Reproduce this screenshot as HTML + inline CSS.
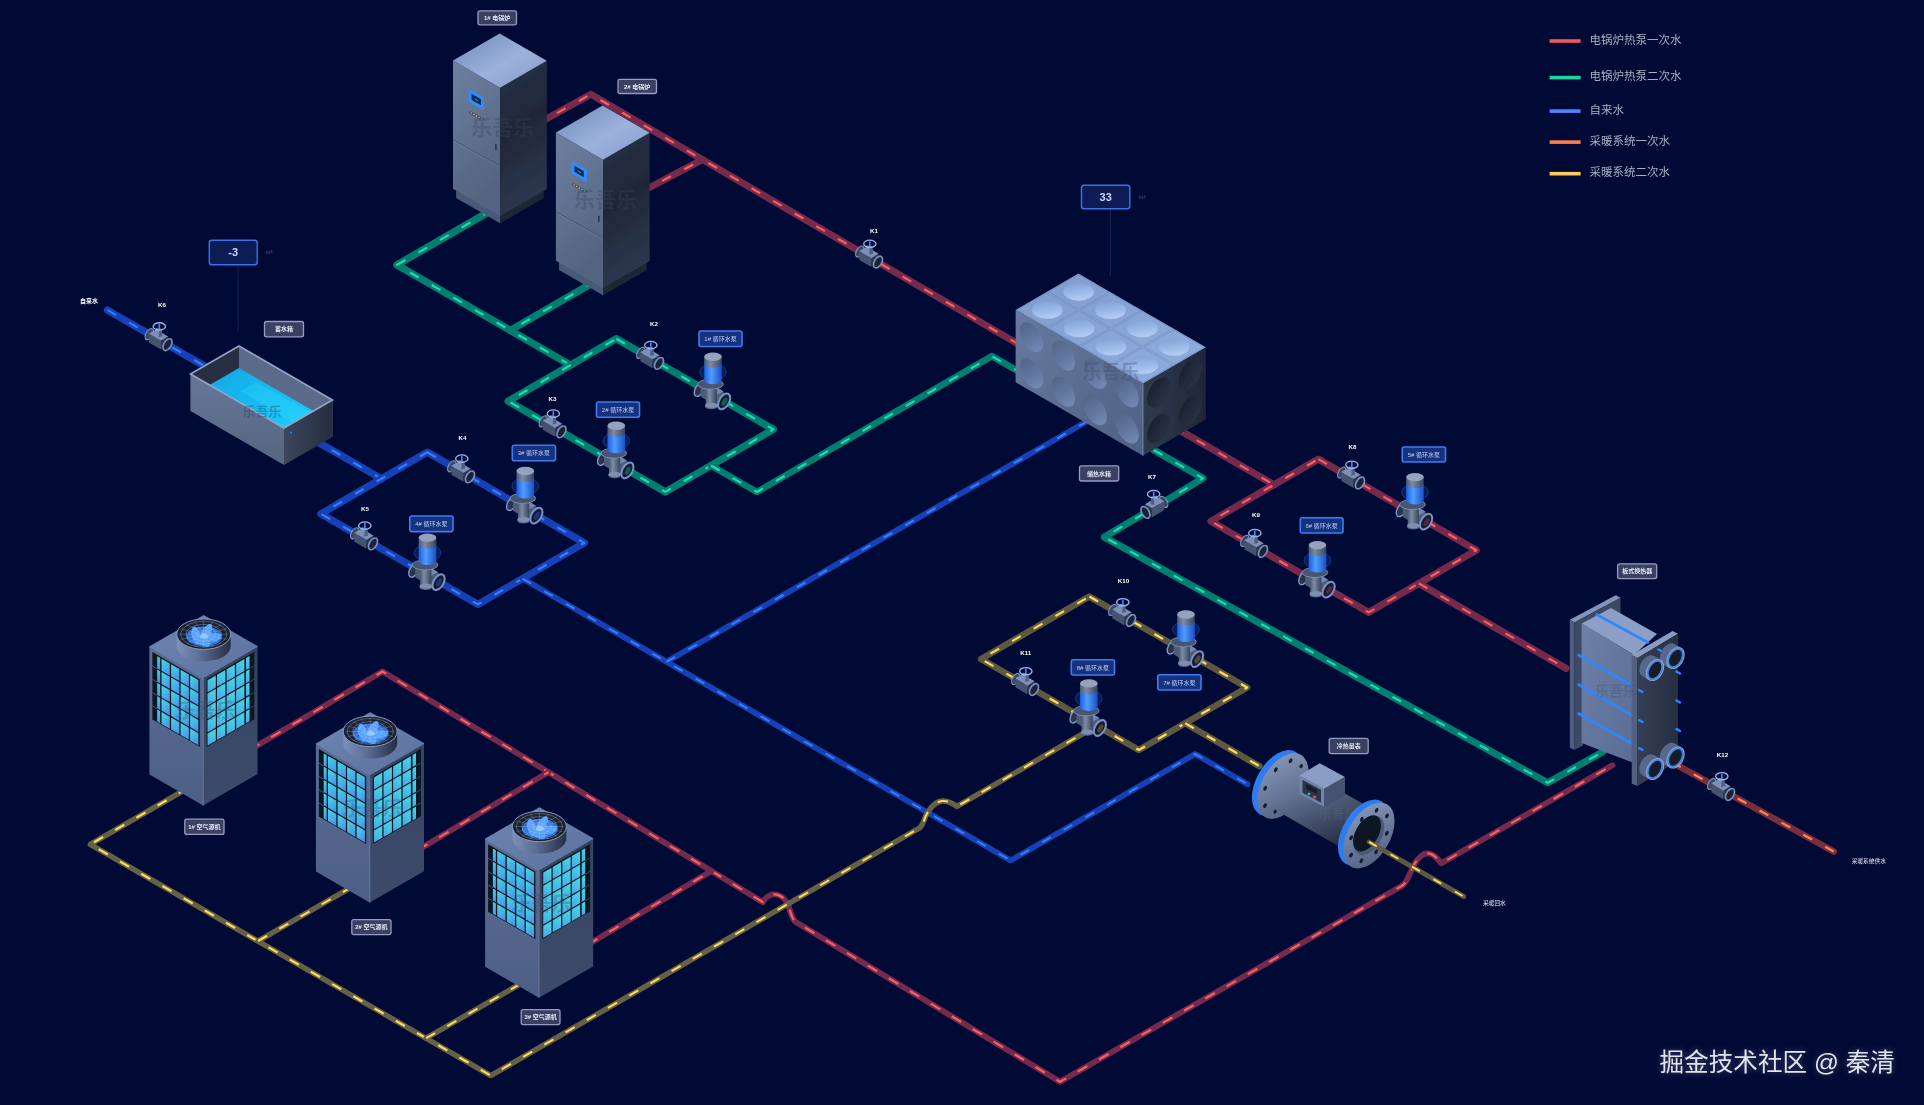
<!DOCTYPE html>
<html lang="zh"><head><meta charset="utf-8"><title>供热系统</title>
<style>html,body{margin:0;padding:0;background:#010a34;overflow:hidden}svg{display:block;font-family:"Liberation Sans","Noto Sans CJK SC",sans-serif}</style></head><body>
<svg width="1924" height="1105" viewBox="0 0 1924 1105">
<defs>
<linearGradient id="cabTop" x1="0" y1="0" x2="1" y2="1"><stop offset="0" stop-color="#6f88bb"/><stop offset=".55" stop-color="#9db2db"/><stop offset="1" stop-color="#8299c6"/></linearGradient>
<linearGradient id="cabL" x1="0" y1="0" x2="0.3" y2="1"><stop offset="0" stop-color="#6f7fa0"/><stop offset="1" stop-color="#536380"/></linearGradient>
<linearGradient id="cabR" x1="0" y1="0" x2="0.2" y2="1"><stop offset="0" stop-color="#27314a"/><stop offset=".5" stop-color="#1f2738"/><stop offset="1" stop-color="#2d3850"/></linearGradient>
<linearGradient id="chTop" x1="0" y1="0" x2="1" y2="1"><stop offset="0" stop-color="#6f86b4"/><stop offset="1" stop-color="#5c719c"/></linearGradient>
<linearGradient id="chL" x1="0" y1="0" x2="0" y2="1"><stop offset="0" stop-color="#5a6d93"/><stop offset="1" stop-color="#4d5f84"/></linearGradient>
<linearGradient id="chR" x1="0" y1="0" x2="0" y2="1"><stop offset="0" stop-color="#36435f"/><stop offset="1" stop-color="#3d4b6b"/></linearGradient>
<linearGradient id="cell" x1="0" y1="0" x2="0.4" y2="1"><stop offset="0" stop-color="#43dbe0"/><stop offset="1" stop-color="#4a98e8"/></linearGradient>
<linearGradient id="cellR" x1="0" y1="0" x2="-0.3" y2="1"><stop offset="0" stop-color="#45d0e2"/><stop offset="1" stop-color="#4aa0e6"/></linearGradient>
<linearGradient id="fanCyl" x1="0" y1="0" x2="1" y2="0"><stop offset="0" stop-color="#7d90b8"/><stop offset=".45" stop-color="#5b6c92"/><stop offset="1" stop-color="#252e44"/></linearGradient>
<radialGradient id="fanBlue" cx=".5" cy=".5" r=".5"><stop offset="0" stop-color="#7cc0ff"/><stop offset=".7" stop-color="#3b8ef0"/><stop offset="1" stop-color="#2566c8"/></radialGradient>
<linearGradient id="motor" x1="0" y1="0" x2="1" y2="0"><stop offset="0" stop-color="#4f5b75"/><stop offset=".35" stop-color="#7d8ba8"/><stop offset="1" stop-color="#38435a"/></linearGradient>
<linearGradient id="motorB" x1="0" y1="0" x2="1" y2="0"><stop offset="0" stop-color="#1f5fe0"/><stop offset=".4" stop-color="#4f9dff"/><stop offset="1" stop-color="#1a4fc4"/></linearGradient>
<linearGradient id="pbase" x1="0" y1="0" x2="1" y2="1"><stop offset="0" stop-color="#9fb0d2"/><stop offset="1" stop-color="#3f4c69"/></linearGradient>
<linearGradient id="vbody" x1="0" y1="0" x2="0" y2="1"><stop offset="0" stop-color="#8394b8"/><stop offset="1" stop-color="#37435c"/></linearGradient>
<linearGradient id="wtL" x1="0" y1="0" x2="0" y2="1"><stop offset="0" stop-color="#66779a"/><stop offset="1" stop-color="#55657f"/></linearGradient>
<linearGradient id="wtR" x1="0" y1="0" x2="1" y2="0"><stop offset="0" stop-color="#3c465e"/><stop offset="1" stop-color="#262d3e"/></linearGradient>
<linearGradient id="water" x1="0" y1="0" x2="1" y2="1"><stop offset="0" stop-color="#10a9e6"/><stop offset=".6" stop-color="#15bdf4"/><stop offset="1" stop-color="#1fd0ff"/></linearGradient>
<linearGradient id="btTop" x1="0" y1="0" x2="1" y2="1"><stop offset="0" stop-color="#7f9bcb"/><stop offset="1" stop-color="#91aee0"/></linearGradient>
<linearGradient id="btL" x1="0" y1="0" x2="1" y2="1"><stop offset="0" stop-color="#677a9f"/><stop offset="1" stop-color="#4e6184"/></linearGradient>
<linearGradient id="btR" x1="0" y1="0" x2="1" y2="0"><stop offset="0" stop-color="#303a50"/><stop offset="1" stop-color="#1f2636"/></linearGradient>
<linearGradient id="dimT" x1="0" y1="0" x2="1" y2=".6"><stop offset="0" stop-color="#7d9bd0"/><stop offset=".6" stop-color="#9ab8e8"/><stop offset="1" stop-color="#b4cdf4"/></linearGradient>
<linearGradient id="dimL" x1="0" y1="0" x2="1" y2="1"><stop offset="0" stop-color="#4d5f83"/><stop offset=".55" stop-color="#63779f"/><stop offset="1" stop-color="#7b92bf"/></linearGradient>
<linearGradient id="dimR" x1="0" y1="0" x2="1" y2="1"><stop offset="0" stop-color="#181e2b"/><stop offset="1" stop-color="#2c3549"/></linearGradient>
<linearGradient id="fmBody" x1="0" y1="0" x2="0.5" y2="1"><stop offset="0" stop-color="#7a8bae"/><stop offset=".35" stop-color="#637394"/><stop offset="1" stop-color="#252d40"/></linearGradient>
<linearGradient id="fmFl" x1="0" y1="0" x2="1" y2="1"><stop offset="0" stop-color="#8a9cc0"/><stop offset="1" stop-color="#4d5b7a"/></linearGradient>
<linearGradient id="heL" x1="0" y1="0" x2="1" y2="1"><stop offset="0" stop-color="#6d80a8"/><stop offset="1" stop-color="#5a6c92"/></linearGradient>
<linearGradient id="heR" x1="0" y1="0" x2="1" y2="0"><stop offset="0" stop-color="#353f56"/><stop offset="1" stop-color="#262e40"/></linearGradient>
<filter id="soft" x="0" y="0" width="1924" height="1105" filterUnits="userSpaceOnUse"><feGaussianBlur stdDeviation="0.7"/></filter><filter id="haze" x="-10%" y="-40%" width="120%" height="180%"><feGaussianBlur stdDeviation="3.5"/></filter></defs>
<rect width="1924" height="1105" fill="#010a34"/>
<g filter="url(#soft)">
<g id="pipes">
<path d="M535.0 125.3 L590.8 94.3 L1030.0 351.0" fill="none" stroke="#742a4b" stroke-width="6.9" stroke-linejoin="round" stroke-linecap="round"/>
<path d="M535.0 125.3 L590.8 94.3 L1030.0 351.0" fill="none" stroke="#ff5c62" stroke-width="2.2" stroke-dasharray="10 15" stroke-dashoffset="0" stroke-linejoin="round"/>
<path d="M640.0 192.5 L702.5 159.6" fill="none" stroke="#742a4b" stroke-width="6.9" stroke-linejoin="round" stroke-linecap="round"/>
<path d="M640.0 192.5 L702.5 159.6" fill="none" stroke="#ff5c62" stroke-width="2.2" stroke-dasharray="10 15" stroke-dashoffset="0" stroke-linejoin="round"/>
<path d="M492.0 210.0 L396.9 264.9 L570.5 365.1" fill="none" stroke="#017e70" stroke-width="7.3" stroke-linejoin="round" stroke-linecap="round"/>
<path d="M492.0 210.0 L396.9 264.9 L570.5 365.1" fill="none" stroke="#22d8ae" stroke-width="2.2" stroke-dasharray="10 15" stroke-dashoffset="0" stroke-linejoin="round"/>
<path d="M595.0 281.5 L510.3 330.4" fill="none" stroke="#017e70" stroke-width="7.3" stroke-linejoin="round" stroke-linecap="round"/>
<path d="M595.0 281.5 L510.3 330.4" fill="none" stroke="#22d8ae" stroke-width="2.2" stroke-dasharray="10 15" stroke-dashoffset="0" stroke-linejoin="round"/>
<path d="M616.3 338.7 L773.4 429.4 L665.4 491.9 L508.2 401.1 Z" fill="none" stroke="#017e70" stroke-width="7.3" stroke-linejoin="round" stroke-linecap="round"/>
<path d="M616.3 338.7 L773.4 429.4 L665.4 491.9 L508.2 401.1 Z" fill="none" stroke="#22d8ae" stroke-width="2.2" stroke-dasharray="10 15" stroke-dashoffset="0" stroke-linejoin="round"/>
<path d="M711.0 465.5 L756.9 492.0 L992.0 356.2 L1040.0 383.9" fill="none" stroke="#017e70" stroke-width="6.6" stroke-linejoin="round" stroke-linecap="round"/>
<path d="M711.0 465.5 L756.9 492.0 L992.0 356.2 L1040.0 383.9" fill="none" stroke="#22d8ae" stroke-width="2.2" stroke-dasharray="10 15" stroke-dashoffset="0" stroke-linejoin="round"/>
<path d="M107.5 310.1 L220.0 375.0" fill="none" stroke="#1341b5" stroke-width="7.3" stroke-linejoin="round" stroke-linecap="round"/>
<path d="M107.5 310.1 L220.0 375.0" fill="none" stroke="#3a7af6" stroke-width="2.2" stroke-dasharray="10 15" stroke-dashoffset="0" stroke-linejoin="round"/>
<path d="M310.0 437.5 L381.5 478.8" fill="none" stroke="#1341b5" stroke-width="7.3" stroke-linejoin="round" stroke-linecap="round"/>
<path d="M310.0 437.5 L381.5 478.8" fill="none" stroke="#3a7af6" stroke-width="2.2" stroke-dasharray="10 15" stroke-dashoffset="0" stroke-linejoin="round"/>
<path d="M427.4 452.2 L584.4 542.9 L477.9 604.4 L320.9 513.8 Z" fill="none" stroke="#1341b5" stroke-width="7.3" stroke-linejoin="round" stroke-linecap="round"/>
<path d="M427.4 452.2 L584.4 542.9 L477.9 604.4 L320.9 513.8 Z" fill="none" stroke="#3a7af6" stroke-width="2.2" stroke-dasharray="10 15" stroke-dashoffset="0" stroke-linejoin="round"/>
<path d="M522.5 578.6 L1010.7 860.5 L1195.1 754.0 L1247.5 784.2" fill="none" stroke="#1341b5" stroke-width="5.8" stroke-linejoin="round" stroke-linecap="round"/>
<path d="M522.5 578.6 L1010.7 860.5 L1195.1 754.0 L1247.5 784.2" fill="none" stroke="#3a7af6" stroke-width="2.2" stroke-dasharray="10 15" stroke-dashoffset="0" stroke-linejoin="round"/>
<path d="M666.5 661.8 L1092.0 418.6" fill="none" stroke="#1341b5" stroke-width="5.8" stroke-linejoin="round" stroke-linecap="round"/>
<path d="M666.5 661.8 L1092.0 418.6" fill="none" stroke="#3a7af6" stroke-width="2.2" stroke-dasharray="10 15" stroke-dashoffset="0" stroke-linejoin="round"/>
<path d="M1175.0 427.6 L1274.0 484.8" fill="none" stroke="#742a4b" stroke-width="7" stroke-linejoin="round" stroke-linecap="round"/>
<path d="M1175.0 427.6 L1274.0 484.8" fill="none" stroke="#ff5c62" stroke-width="2.2" stroke-dasharray="10 15" stroke-dashoffset="0" stroke-linejoin="round"/>
<path d="M1318.4 459.1 L1476.3 550.2 L1368.7 612.4 L1210.8 521.2 Z" fill="none" stroke="#742a4b" stroke-width="7" stroke-linejoin="round" stroke-linecap="round"/>
<path d="M1318.4 459.1 L1476.3 550.2 L1368.7 612.4 L1210.8 521.2 Z" fill="none" stroke="#ff5c62" stroke-width="2.2" stroke-dasharray="10 15" stroke-dashoffset="0" stroke-linejoin="round"/>
<path d="M1418.8 583.4 L1566.0 668.4" fill="none" stroke="#742a4b" stroke-width="7" stroke-linejoin="round" stroke-linecap="round"/>
<path d="M1418.8 583.4 L1566.0 668.4" fill="none" stroke="#ff5c62" stroke-width="2.2" stroke-dasharray="10 15" stroke-dashoffset="0" stroke-linejoin="round"/>
<path d="M1153.7 450.0 L1203.0 478.3 L1167.6 499.8" fill="none" stroke="#017e70" stroke-width="7" stroke-linejoin="round" stroke-linecap="round"/>
<path d="M1153.7 450.0 L1203.0 478.3 L1167.6 499.8" fill="none" stroke="#22d8ae" stroke-width="2.2" stroke-dasharray="10 15" stroke-dashoffset="0" stroke-linejoin="round"/>
<path d="M1143.7 513.7 L1104.4 537.1 L1547.7 782.8 L1603.0 751.8" fill="none" stroke="#017e70" stroke-width="7" stroke-linejoin="round" stroke-linecap="round"/>
<path d="M1143.7 513.7 L1104.4 537.1 L1547.7 782.8 L1603.0 751.8" fill="none" stroke="#22d8ae" stroke-width="2.2" stroke-dasharray="10 15" stroke-dashoffset="0" stroke-linejoin="round"/>
<path d="M1089.4 596.5 L1247.1 687.5 L1138.8 750.0 L981.1 659.0 Z" fill="none" stroke="#5f5941" stroke-width="6.5" stroke-linejoin="round" stroke-linecap="round"/>
<path d="M1089.4 596.5 L1247.1 687.5 L1138.8 750.0 L981.1 659.0 Z" fill="none" stroke="#ffd95a" stroke-width="2.2" stroke-dasharray="10 15" stroke-dashoffset="0" stroke-linejoin="round"/>
<path d="M1185.2 723.2 L1259.5 766.2" fill="none" stroke="#5f5941" stroke-width="6.5" stroke-linejoin="round" stroke-linecap="round"/>
<path d="M1185.2 723.2 L1259.5 766.2" fill="none" stroke="#ffd95a" stroke-width="2.2" stroke-dasharray="10 15" stroke-dashoffset="0" stroke-linejoin="round"/>
<path d="M1366.0 840.2 L1463.8 896.6" fill="none" stroke="#5f5941" stroke-width="4.6" stroke-linejoin="round" stroke-linecap="round"/>
<path d="M1366.0 840.2 L1463.8 896.6" fill="none" stroke="#ffd95a" stroke-width="1.9" stroke-dasharray="10 15" stroke-dashoffset="0" stroke-linejoin="round"/>
<path d="M250 749.7 L382.5 671.5 L763 902.3 C764.5 899 767 896 772 894.5 C779 893.5 785 898 788 904.5 C790 909.5 791 917 795 921.5 L1060 1081.8 L1402.5 885.5 C1406 883 1408 878 1410.5 872.5 C1413 866 1417 857.5 1424 854 C1429 852 1434 855 1437 858.5 L1441.3 863.3 L1612.5 765.2" fill="none" stroke="#752c4d" stroke-width="5.8" stroke-linejoin="round" stroke-linecap="round"/>
<path d="M250 749.7 L382.5 671.5 L763 902.3 C764.5 899 767 896 772 894.5 C779 893.5 785 898 788 904.5 C790 909.5 791 917 795 921.5 L1060 1081.8 L1402.5 885.5 C1406 883 1408 878 1410.5 872.5 C1413 866 1417 857.5 1424 854 C1429 852 1434 855 1437 858.5 L1441.3 863.3 L1612.5 765.2" fill="none" stroke="#ff5c62" stroke-width="2.2" stroke-dasharray="11 13.5" stroke-dashoffset="0" stroke-linejoin="round"/>
<path d="M418.0 849.9 L548.5 772.1" fill="none" stroke="#752c4d" stroke-width="5.8" stroke-linejoin="round" stroke-linecap="round"/>
<path d="M418.0 849.9 L548.5 772.1" fill="none" stroke="#ff5c62" stroke-width="2.2" stroke-dasharray="11 13.5" stroke-dashoffset="0" stroke-linejoin="round"/>
<path d="M588.0 944.5 L711.5 870.9" fill="none" stroke="#752c4d" stroke-width="5.8" stroke-linejoin="round" stroke-linecap="round"/>
<path d="M588.0 944.5 L711.5 870.9" fill="none" stroke="#ff5c62" stroke-width="2.2" stroke-dasharray="11 13.5" stroke-dashoffset="0" stroke-linejoin="round"/>
<path d="M1096.7 725.7 L957 806.4 C952 803 948 800.5 942 801 C934 802 929 809.5 925.5 816.5 C924 820.5 923 824.5 920 827.7 L490.8 1075.6 L90.3 844.4 L190.0 786.8" fill="none" stroke="#666045" stroke-width="5.4" stroke-linejoin="round" stroke-linecap="round"/>
<path d="M1096.7 725.7 L957 806.4 C952 803 948 800.5 942 801 C934 802 929 809.5 925.5 816.5 C924 820.5 923 824.5 920 827.7 L490.8 1075.6 L90.3 844.4 L190.0 786.8" fill="none" stroke="#ffd95a" stroke-width="2.1" stroke-dasharray="10.5 14" stroke-dashoffset="0" stroke-linejoin="round"/>
<path d="M352.0 886.8 L257.9 941.1" fill="none" stroke="#666045" stroke-width="5.4" stroke-linejoin="round" stroke-linecap="round"/>
<path d="M352.0 886.8 L257.9 941.1" fill="none" stroke="#ffd95a" stroke-width="2.1" stroke-dasharray="10.5 14" stroke-dashoffset="0" stroke-linejoin="round"/>
<path d="M520.0 984.1 L426.2 1038.2" fill="none" stroke="#666045" stroke-width="5.4" stroke-linejoin="round" stroke-linecap="round"/>
<path d="M520.0 984.1 L426.2 1038.2" fill="none" stroke="#ffd95a" stroke-width="2.1" stroke-dasharray="10.5 14" stroke-dashoffset="0" stroke-linejoin="round"/>
<path d="M1672.0 762.3 L1833.8 851.5" fill="none" stroke="#7a2f3e" stroke-width="6.5" stroke-linejoin="round" stroke-linecap="round"/>
<path d="M1672.0 762.3 L1833.8 851.5" fill="none" stroke="#ff8455" stroke-width="2.2" stroke-dasharray="10 15" stroke-dashoffset="0" stroke-linejoin="round"/>
</g>
<g id="devices">
<polygon points="456.1,182.8 500.1,208.2 500.1,223.3 456.1,197.9" fill="#4a5a78"/>
<polygon points="500.1,208.2 543.7,183.0 543.7,198.2 500.1,223.3" fill="#1d2536"/>
<polygon points="453.0,60.5 500.1,87.8 500.1,215.9 453.0,188.8" fill="url(#cabL)"/>
<polygon points="500.1,87.8 546.8,60.8 546.8,189.0 500.1,215.9" fill="url(#cabR)"/>
<polygon points="499.7,33.6 546.8,60.8 500.1,87.8 453.0,60.5" fill="url(#cabTop)"/>
<path d="M453.5 140.1 L499.6 165.8" stroke="#46556f" stroke-width="1" fill="none"/>
<path d="M453.5 141.1 L499.6 166.8" stroke="#8091b2" stroke-width=".6" fill="none" opacity=".6"/>
<polygon points="469.0,89.8 483.3,98.0 483.3,109.2 469.0,101.0" fill="#2f8dff" stroke="#2f8dff" stroke-width="1.2" stroke-linejoin="round"/>
<polygon points="471.5,93.8 481.0,99.3 481.0,105.3 471.5,99.8" fill="#0d2c52"/>
<path d="M474.7 98.8 L478.1 100.8" stroke="#2bd0a0" stroke-width=".8"/>
<path d="M470.3 112.5 L482.5 119.5" stroke="#4a5874" stroke-width="2.6" stroke-linecap="round"/>
<circle cx="471.2" cy="113.0" r=".75" fill="#ff8a3c"/>
<circle cx="473.8" cy="114.5" r=".75" fill="#ff8a3c"/>
<circle cx="476.4" cy="116.0" r=".75" fill="#ffb03c"/>
<circle cx="479.0" cy="117.5" r=".75" fill="#38d890"/>
<circle cx="481.6" cy="119.0" r=".75" fill="#38d890"/>
<path d="M495.9 144.3 v5" stroke="#1e2738" stroke-width="1.3" stroke-linecap="round"/>
<text x="502.7" y="134.6" font-size="21" font-weight="700" fill="#39445c" fill-opacity="0.33" text-anchor="middle">乐吾乐</text>
<polygon points="559.0,254.8 603.0,280.1 603.0,295.3 559.0,269.9" fill="#4a5a78"/>
<polygon points="603.0,280.1 646.6,255.0 646.6,270.2 603.0,295.3" fill="#1d2536"/>
<polygon points="555.9,132.5 603.0,159.7 603.0,287.9 555.9,260.8" fill="url(#cabL)"/>
<polygon points="603.0,159.7 649.7,132.8 649.7,261.0 603.0,287.9" fill="url(#cabR)"/>
<polygon points="602.6,105.6 649.7,132.8 603.0,159.7 555.9,132.5" fill="url(#cabTop)"/>
<path d="M556.4 212.0 L602.5 237.7" stroke="#46556f" stroke-width="1" fill="none"/>
<path d="M556.4 213.0 L602.5 238.7" stroke="#8091b2" stroke-width=".6" fill="none" opacity=".6"/>
<polygon points="571.9,161.8 586.2,170.0 586.2,181.2 571.9,173.0" fill="#2f8dff" stroke="#2f8dff" stroke-width="1.2" stroke-linejoin="round"/>
<polygon points="574.4,165.8 583.9,171.3 583.9,177.3 574.4,171.8" fill="#0d2c52"/>
<path d="M577.6 170.8 L581.0 172.8" stroke="#2bd0a0" stroke-width=".8"/>
<path d="M573.2 184.5 L585.4 191.5" stroke="#4a5874" stroke-width="2.6" stroke-linecap="round"/>
<circle cx="574.1" cy="185.0" r=".75" fill="#ff8a3c"/>
<circle cx="576.7" cy="186.5" r=".75" fill="#ff8a3c"/>
<circle cx="579.3" cy="188.0" r=".75" fill="#ffb03c"/>
<circle cx="581.9" cy="189.5" r=".75" fill="#38d890"/>
<circle cx="584.5" cy="191.0" r=".75" fill="#38d890"/>
<path d="M598.8 216.3 v5" stroke="#1e2738" stroke-width="1.3" stroke-linecap="round"/>
<text x="605.6" y="206.6" font-size="21" font-weight="700" fill="#39445c" fill-opacity="0.33" text-anchor="middle">乐吾乐</text>
<polygon points="239.0,346.0 190.5,374.0 190.5,411.0 239.0,383.0" fill="#262e40"/>
<polygon points="239.0,346.0 332.5,400.0 332.5,437.0 239.0,383.0" fill="#5b6b8a"/>
<polygon points="239.0,368.0 313.5,411.0 284.0,428.0 209.6,385.0" fill="url(#water)"/>
<polygon points="256.3,382.0 310.5,412.5 292.0,422.0 240.3,391.0" fill="#3fe0ff" fill-opacity=".28"/>
<polygon points="190.5,374.0 284.0,428.0 284.0,465.0 190.5,411.0" fill="url(#wtL)"/>
<polygon points="284.0,428.0 332.5,400.0 332.5,437.0 284.0,465.0" fill="url(#wtR)"/>
<polygon points="239.0,346.0 332.5,400.0 284.0,428.0 190.5,374.0" fill="none" stroke="#93a5ca" stroke-width="1.6" stroke-linejoin="miter"/>
<circle cx="291.0" cy="432.5" r="1" fill="#2f8dff"/>
<text x="262.0" y="416.0" font-size="13" font-weight="700" fill="#2a3a55" fill-opacity="0.35" text-anchor="middle">乐吾乐</text>
<polygon points="1015.6,309.9 1143.0,383.4 1143.0,455.8 1015.6,382.2" fill="url(#btL)"/>
<polygon points="1143.0,383.4 1205.8,347.2 1205.8,419.6 1143.0,455.8" fill="url(#btR)"/>
<polygon points="1078.4,273.6 1205.8,347.2 1143.0,383.4 1015.6,309.9" fill="url(#btTop)"/>
<g transform="matrix(0.8660 0.5000 -0.8660 0.5000 1078.4 273.6)">
<rect x="1.0" y="1.0" width="34.8" height="34.2" fill="none" stroke="#6d88b8" stroke-width=".7" stroke-opacity=".7"/>
<circle cx="18.4" cy="18.1" r="12.5" fill="url(#dimT)"/>
<rect x="1.0" y="37.2" width="34.8" height="34.2" fill="none" stroke="#6d88b8" stroke-width=".7" stroke-opacity=".7"/>
<circle cx="18.4" cy="54.4" r="12.5" fill="url(#dimT)"/>
<rect x="37.8" y="1.0" width="34.8" height="34.2" fill="none" stroke="#6d88b8" stroke-width=".7" stroke-opacity=".7"/>
<circle cx="55.2" cy="18.1" r="12.5" fill="url(#dimT)"/>
<rect x="37.8" y="37.2" width="34.8" height="34.2" fill="none" stroke="#6d88b8" stroke-width=".7" stroke-opacity=".7"/>
<circle cx="55.2" cy="54.4" r="12.5" fill="url(#dimT)"/>
<rect x="74.5" y="1.0" width="34.8" height="34.2" fill="none" stroke="#6d88b8" stroke-width=".7" stroke-opacity=".7"/>
<circle cx="91.9" cy="18.1" r="12.5" fill="url(#dimT)"/>
<rect x="74.5" y="37.2" width="34.8" height="34.2" fill="none" stroke="#6d88b8" stroke-width=".7" stroke-opacity=".7"/>
<circle cx="91.9" cy="54.4" r="12.5" fill="url(#dimT)"/>
<rect x="111.3" y="1.0" width="34.8" height="34.2" fill="none" stroke="#6d88b8" stroke-width=".7" stroke-opacity=".7"/>
<circle cx="128.7" cy="18.1" r="12.5" fill="url(#dimT)"/>
<rect x="111.3" y="37.2" width="34.8" height="34.2" fill="none" stroke="#6d88b8" stroke-width=".7" stroke-opacity=".7"/>
<circle cx="128.7" cy="54.4" r="12.5" fill="url(#dimT)"/>
</g>
<g transform="matrix(0.8660 0.5000 0 1 1015.6 309.9)">
<circle cx="18.4" cy="18.1" r="13.5" fill="url(#dimL)"/>
<circle cx="18.4" cy="54.3" r="13.5" fill="url(#dimL)"/>
<circle cx="55.2" cy="18.1" r="13.5" fill="url(#dimL)"/>
<circle cx="55.2" cy="54.3" r="13.5" fill="url(#dimL)"/>
<circle cx="91.9" cy="18.1" r="13.5" fill="url(#dimL)"/>
<circle cx="91.9" cy="54.3" r="13.5" fill="url(#dimL)"/>
<circle cx="128.7" cy="18.1" r="13.5" fill="url(#dimL)"/>
<circle cx="128.7" cy="54.3" r="13.5" fill="url(#dimL)"/>
</g>
<g transform="matrix(0.8660 -0.5000 0 1 1143.0 383.4)">
<circle cx="18.1" cy="18.1" r="13.5" fill="url(#dimR)"/>
<circle cx="18.1" cy="54.3" r="13.5" fill="url(#dimR)"/>
<circle cx="54.4" cy="18.1" r="13.5" fill="url(#dimR)"/>
<circle cx="54.4" cy="54.3" r="13.5" fill="url(#dimR)"/>
</g>
<path d="M1143.0 383.4 v72.4" stroke="#8aa2cf" stroke-width=".8" stroke-opacity=".8"/>
<text x="1111.0" y="379.0" font-size="19" font-weight="700" fill="#3a4864" fill-opacity="0.3" text-anchor="middle">乐吾乐</text>
<polygon points="1569.8,619.7 1615.8,595.2 1620.5,597.8 1574.5,622.5" fill="#8294ba"/>
<polygon points="1569.8,619.7 1574.5,622.5 1574.5,750.0 1569.8,747.5" fill="#4f5f80"/>
<polygon points="1574.5,622.5 1620.5,597.8 1620.5,640.0 1583.0,660.0 1583.0,745.5 1574.5,750.0" fill="#3c4965"/>
<polygon points="1581.6,623.5 1611.0,608.0 1657.0,634.0 1634.0,655.0" fill="#8d9fc6"/>
<polygon points="1581.6,623.5 1634.0,655.0 1634.0,763.0 1581.6,743.0" fill="url(#heL)"/>
<path d="M1596.5 614.5 L1648.0 642.5" stroke="#2f86ff" stroke-width="2.6" stroke-linecap="round"/>
<path d="M1578.5 655.0 L1631.5 685.5" stroke="#2f86ff" stroke-width="2.6" stroke-linecap="round"/>
<path d="M1578.5 684.5 L1631.5 715.0" stroke="#2f86ff" stroke-width="2.6" stroke-linecap="round"/>
<path d="M1578.5 713.5 L1631.5 743.5" stroke="#2f86ff" stroke-width="2.6" stroke-linecap="round"/>
<polygon points="1631.7,655.0 1672.5,631.0 1678.0,633.8 1637.5,658.0" fill="#8a9cc2"/>
<polygon points="1631.7,655.0 1637.5,658.0 1637.5,786.0 1631.7,783.5" fill="#52617f"/>
<polygon points="1637.5,658.0 1678.0,633.8 1678.0,761.0 1637.5,786.0" fill="url(#heR)"/>
<path d="M1639.0 690.0 l3.5 2" stroke="#2f86ff" stroke-width="2.4" stroke-linecap="round"/>
<path d="M1639.0 720.0 l3.5 2" stroke="#2f86ff" stroke-width="2.4" stroke-linecap="round"/>
<path d="M1639.0 748.0 l3.5 2" stroke="#2f86ff" stroke-width="2.4" stroke-linecap="round"/>
<path d="M1676.5 671.5 l3.5 2" stroke="#2f86ff" stroke-width="2.4" stroke-linecap="round"/>
<path d="M1676.5 700.5 l3.5 2" stroke="#2f86ff" stroke-width="2.4" stroke-linecap="round"/>
<path d="M1676.5 729.0 l3.5 2" stroke="#2f86ff" stroke-width="2.4" stroke-linecap="round"/>
<path d="M1658.5 649.5 l3.5 2" stroke="#2f86ff" stroke-width="2.4" stroke-linecap="round"/>
<ellipse cx="1668.5" cy="654.0" rx="7.6" ry="11.6" transform="rotate(30 1668.5 654.0)" fill="#56678c"/>
<path d="M1681.1 647.8 L1674.1 643.8 L1662.9 664.2 L1669.9 668.2 Z" fill="#56678c"/>
<ellipse cx="1675.5" cy="658.0" rx="6.2" ry="9.8" transform="rotate(30 1675.5 658.0)" fill="#171c28" stroke="#3a86f5" stroke-width="1.8"/>
<ellipse cx="1675.5" cy="658.0" rx="7.6" ry="11.2" transform="rotate(30 1675.5 658.0)" fill="none" stroke="#8a9cc4" stroke-width="1.3"/>
<ellipse cx="1648.0" cy="666.0" rx="7.6" ry="11.6" transform="rotate(30 1648.0 666.0)" fill="#56678c"/>
<path d="M1660.6 659.8 L1653.6 655.8 L1642.4 676.2 L1649.4 680.2 Z" fill="#56678c"/>
<ellipse cx="1655.0" cy="670.0" rx="6.2" ry="9.8" transform="rotate(30 1655.0 670.0)" fill="#171c28" stroke="#3a86f5" stroke-width="1.8"/>
<ellipse cx="1655.0" cy="670.0" rx="7.6" ry="11.2" transform="rotate(30 1655.0 670.0)" fill="none" stroke="#8a9cc4" stroke-width="1.3"/>
<ellipse cx="1668.5" cy="753.5" rx="7.6" ry="11.6" transform="rotate(30 1668.5 753.5)" fill="#56678c"/>
<path d="M1681.1 747.3 L1674.1 743.3 L1662.9 763.7 L1669.9 767.7 Z" fill="#56678c"/>
<ellipse cx="1675.5" cy="757.5" rx="6.2" ry="9.8" transform="rotate(30 1675.5 757.5)" fill="#171c28" stroke="#3a86f5" stroke-width="1.8"/>
<ellipse cx="1675.5" cy="757.5" rx="7.6" ry="11.2" transform="rotate(30 1675.5 757.5)" fill="none" stroke="#8a9cc4" stroke-width="1.3"/>
<ellipse cx="1648.0" cy="765.0" rx="7.6" ry="11.6" transform="rotate(30 1648.0 765.0)" fill="#56678c"/>
<path d="M1660.6 758.8 L1653.6 754.8 L1642.4 775.2 L1649.4 779.2 Z" fill="#56678c"/>
<ellipse cx="1655.0" cy="769.0" rx="6.2" ry="9.8" transform="rotate(30 1655.0 769.0)" fill="#171c28" stroke="#3a86f5" stroke-width="1.8"/>
<ellipse cx="1655.0" cy="769.0" rx="7.6" ry="11.2" transform="rotate(30 1655.0 769.0)" fill="none" stroke="#8a9cc4" stroke-width="1.3"/>
<text x="1616.0" y="696.0" font-size="14" font-weight="700" fill="#3d4a68" fill-opacity="0.28" text-anchor="middle">乐吾乐</text>
<g transform="translate(869.0 256.9) scale(.92)">
<ellipse cx="-10" cy="-5.8" rx="3.6" ry="6.6" transform="rotate(30 -10 -5.8)" fill="#3a4762" stroke="#7d94c6" stroke-width="1.3"/>
<path d="M-10.5 -6.5 L2.7 1.2 L2.7 11 L-10.5 3.3 Z" fill="#45536f"/>
<path d="M2.7 1.2 L10.5 -3.3 L10.5 6.5 L2.7 11 Z" fill="#2c364b"/>
<path d="M-10.5 -6.5 L-2.7 -11 L10.5 -3.3 L2.7 1.2 Z" fill="#7d90b8"/>
<path d="M-3.8 -7 L-2.6 -12.5 L3.2 -11.5 L4.4 -3.6 L0.3 -2.4 Z" fill="#7a8eb8"/>
<path d="M0.3 -2.4 L4.4 -3.6 L3.2 -11.5 L0.8 -10 Z" fill="#4f5e7e"/>
<path d="M0.9 -10.5 V-17" stroke="#3f90ff" stroke-width="1.7"/>
<ellipse cx="0.9" cy="-14.2" rx="6.7" ry="4" fill="none" stroke="#9db4e6" stroke-width="1.45"/>
<ellipse cx="9.8" cy="5.6" rx="4" ry="7" transform="rotate(30 9.8 5.6)" fill="#1a2132" stroke="#7890c4" stroke-width="1.8"/>
</g>
<g transform="translate(650.0 358.2) scale(.92)">
<ellipse cx="-10" cy="-5.8" rx="3.6" ry="6.6" transform="rotate(30 -10 -5.8)" fill="#3a4762" stroke="#7d94c6" stroke-width="1.3"/>
<path d="M-10.5 -6.5 L2.7 1.2 L2.7 11 L-10.5 3.3 Z" fill="#45536f"/>
<path d="M2.7 1.2 L10.5 -3.3 L10.5 6.5 L2.7 11 Z" fill="#2c364b"/>
<path d="M-10.5 -6.5 L-2.7 -11 L10.5 -3.3 L2.7 1.2 Z" fill="#7d90b8"/>
<path d="M-3.8 -7 L-2.6 -12.5 L3.2 -11.5 L4.4 -3.6 L0.3 -2.4 Z" fill="#7a8eb8"/>
<path d="M0.3 -2.4 L4.4 -3.6 L3.2 -11.5 L0.8 -10 Z" fill="#4f5e7e"/>
<path d="M0.9 -10.5 V-17" stroke="#3f90ff" stroke-width="1.7"/>
<ellipse cx="0.9" cy="-14.2" rx="6.7" ry="4" fill="none" stroke="#9db4e6" stroke-width="1.45"/>
<ellipse cx="9.8" cy="5.6" rx="4" ry="7" transform="rotate(30 9.8 5.6)" fill="#1a2132" stroke="#7890c4" stroke-width="1.8"/>
</g>
<g transform="translate(711.7 395.0)">
<ellipse cx="-12.2" cy="-5.6" rx="4.2" ry="7.6" transform="rotate(30 -12.2 -5.6)" fill="#2c364c" stroke="#8299cc" stroke-width="1.4"/>
<path d="M-11 -10.5 L-4 -13 L13 -2 L13 9 L8 13.5 L-11 1.5 Z" fill="#4d5b7a"/>
<path d="M-11 -10.5 L-4 -13.5 L12 -3.5 L5 0 Z" fill="#7587ac"/>
<path d="M-6 -10 V9.5 a5.6 2.4 0 0 0 11.2 0 V-10 Z" fill="url(#motor)"/>
<ellipse cx="-0.4" cy="11.6" rx="6.2" ry="2.6" fill="#5a6a8c"/>
<ellipse cx="-0.4" cy="10.4" rx="6.2" ry="2.6" fill="#7e8fb3"/>
<ellipse cx="-1.2" cy="-10.8" rx="12.8" ry="5" fill="#46546f" stroke="#8398c4" stroke-width=".8"/>
<ellipse cx="1.3" cy="-23" rx="13.4" ry="8.5" fill="#1c5fd8" fill-opacity=".2" stroke="#2b6fe8" stroke-opacity=".5" stroke-width=".8"/>
<path d="M-7.5 -31 V-14.5 a8.8 3.8 0 0 0 17.6 0 V-31 Z" fill="url(#motorB)"/>
<path d="M-7.5 -38.2 V-31 a8.8 3.8 0 0 0 17.6 0 V-38.2 Z" fill="url(#motor)"/>
<ellipse cx="1.3" cy="-38.2" rx="8.8" ry="4.2" fill="#94a2be"/>
<ellipse cx="12.4" cy="6.4" rx="5" ry="8.6" transform="rotate(30 12.4 6.4)" fill="#171e2e" stroke="#7b92c6" stroke-width="2"/>
<ellipse cx="12.8" cy="6.7" rx="2.2" ry="4.4" transform="rotate(30 12.8 6.7)" fill="#017f70" fill-opacity=".65"/>
</g>
<g transform="translate(552.5 426.7) scale(.92)">
<ellipse cx="-10" cy="-5.8" rx="3.6" ry="6.6" transform="rotate(30 -10 -5.8)" fill="#3a4762" stroke="#7d94c6" stroke-width="1.3"/>
<path d="M-10.5 -6.5 L2.7 1.2 L2.7 11 L-10.5 3.3 Z" fill="#45536f"/>
<path d="M2.7 1.2 L10.5 -3.3 L10.5 6.5 L2.7 11 Z" fill="#2c364b"/>
<path d="M-10.5 -6.5 L-2.7 -11 L10.5 -3.3 L2.7 1.2 Z" fill="#7d90b8"/>
<path d="M-3.8 -7 L-2.6 -12.5 L3.2 -11.5 L4.4 -3.6 L0.3 -2.4 Z" fill="#7a8eb8"/>
<path d="M0.3 -2.4 L4.4 -3.6 L3.2 -11.5 L0.8 -10 Z" fill="#4f5e7e"/>
<path d="M0.9 -10.5 V-17" stroke="#3f90ff" stroke-width="1.7"/>
<ellipse cx="0.9" cy="-14.2" rx="6.7" ry="4" fill="none" stroke="#9db4e6" stroke-width="1.45"/>
<ellipse cx="9.8" cy="5.6" rx="4" ry="7" transform="rotate(30 9.8 5.6)" fill="#1a2132" stroke="#7890c4" stroke-width="1.8"/>
</g>
<g transform="translate(615.0 464.0)">
<ellipse cx="-12.2" cy="-5.6" rx="4.2" ry="7.6" transform="rotate(30 -12.2 -5.6)" fill="#2c364c" stroke="#8299cc" stroke-width="1.4"/>
<path d="M-11 -10.5 L-4 -13 L13 -2 L13 9 L8 13.5 L-11 1.5 Z" fill="#4d5b7a"/>
<path d="M-11 -10.5 L-4 -13.5 L12 -3.5 L5 0 Z" fill="#7587ac"/>
<path d="M-6 -10 V9.5 a5.6 2.4 0 0 0 11.2 0 V-10 Z" fill="url(#motor)"/>
<ellipse cx="-0.4" cy="11.6" rx="6.2" ry="2.6" fill="#5a6a8c"/>
<ellipse cx="-0.4" cy="10.4" rx="6.2" ry="2.6" fill="#7e8fb3"/>
<ellipse cx="-1.2" cy="-10.8" rx="12.8" ry="5" fill="#46546f" stroke="#8398c4" stroke-width=".8"/>
<ellipse cx="1.3" cy="-23" rx="13.4" ry="8.5" fill="#1c5fd8" fill-opacity=".2" stroke="#2b6fe8" stroke-opacity=".5" stroke-width=".8"/>
<path d="M-7.5 -31 V-14.5 a8.8 3.8 0 0 0 17.6 0 V-31 Z" fill="url(#motorB)"/>
<path d="M-7.5 -38.2 V-31 a8.8 3.8 0 0 0 17.6 0 V-38.2 Z" fill="url(#motor)"/>
<ellipse cx="1.3" cy="-38.2" rx="8.8" ry="4.2" fill="#94a2be"/>
<ellipse cx="12.4" cy="6.4" rx="5" ry="8.6" transform="rotate(30 12.4 6.4)" fill="#171e2e" stroke="#7b92c6" stroke-width="2"/>
<ellipse cx="12.8" cy="6.7" rx="2.2" ry="4.4" transform="rotate(30 12.8 6.7)" fill="#017f70" fill-opacity=".65"/>
</g>
<g transform="translate(158.5 339.5) scale(.92)">
<ellipse cx="-10" cy="-5.8" rx="3.6" ry="6.6" transform="rotate(30 -10 -5.8)" fill="#3a4762" stroke="#7d94c6" stroke-width="1.3"/>
<path d="M-10.5 -6.5 L2.7 1.2 L2.7 11 L-10.5 3.3 Z" fill="#45536f"/>
<path d="M2.7 1.2 L10.5 -3.3 L10.5 6.5 L2.7 11 Z" fill="#2c364b"/>
<path d="M-10.5 -6.5 L-2.7 -11 L10.5 -3.3 L2.7 1.2 Z" fill="#7d90b8"/>
<path d="M-3.8 -7 L-2.6 -12.5 L3.2 -11.5 L4.4 -3.6 L0.3 -2.4 Z" fill="#7a8eb8"/>
<path d="M0.3 -2.4 L4.4 -3.6 L3.2 -11.5 L0.8 -10 Z" fill="#4f5e7e"/>
<path d="M0.9 -10.5 V-17" stroke="#3f90ff" stroke-width="1.7"/>
<ellipse cx="0.9" cy="-14.2" rx="6.7" ry="4" fill="none" stroke="#9db4e6" stroke-width="1.45"/>
<ellipse cx="9.8" cy="5.6" rx="4" ry="7" transform="rotate(30 9.8 5.6)" fill="#1a2132" stroke="#7890c4" stroke-width="1.8"/>
</g>
<g transform="translate(461.0 471.7) scale(.92)">
<ellipse cx="-10" cy="-5.8" rx="3.6" ry="6.6" transform="rotate(30 -10 -5.8)" fill="#3a4762" stroke="#7d94c6" stroke-width="1.3"/>
<path d="M-10.5 -6.5 L2.7 1.2 L2.7 11 L-10.5 3.3 Z" fill="#45536f"/>
<path d="M2.7 1.2 L10.5 -3.3 L10.5 6.5 L2.7 11 Z" fill="#2c364b"/>
<path d="M-10.5 -6.5 L-2.7 -11 L10.5 -3.3 L2.7 1.2 Z" fill="#7d90b8"/>
<path d="M-3.8 -7 L-2.6 -12.5 L3.2 -11.5 L4.4 -3.6 L0.3 -2.4 Z" fill="#7a8eb8"/>
<path d="M0.3 -2.4 L4.4 -3.6 L3.2 -11.5 L0.8 -10 Z" fill="#4f5e7e"/>
<path d="M0.9 -10.5 V-17" stroke="#3f90ff" stroke-width="1.7"/>
<ellipse cx="0.9" cy="-14.2" rx="6.7" ry="4" fill="none" stroke="#9db4e6" stroke-width="1.45"/>
<ellipse cx="9.8" cy="5.6" rx="4" ry="7" transform="rotate(30 9.8 5.6)" fill="#1a2132" stroke="#7890c4" stroke-width="1.8"/>
</g>
<g transform="translate(524.0 509.2)">
<ellipse cx="-12.2" cy="-5.6" rx="4.2" ry="7.6" transform="rotate(30 -12.2 -5.6)" fill="#2c364c" stroke="#8299cc" stroke-width="1.4"/>
<path d="M-11 -10.5 L-4 -13 L13 -2 L13 9 L8 13.5 L-11 1.5 Z" fill="#4d5b7a"/>
<path d="M-11 -10.5 L-4 -13.5 L12 -3.5 L5 0 Z" fill="#7587ac"/>
<path d="M-6 -10 V9.5 a5.6 2.4 0 0 0 11.2 0 V-10 Z" fill="url(#motor)"/>
<ellipse cx="-0.4" cy="11.6" rx="6.2" ry="2.6" fill="#5a6a8c"/>
<ellipse cx="-0.4" cy="10.4" rx="6.2" ry="2.6" fill="#7e8fb3"/>
<ellipse cx="-1.2" cy="-10.8" rx="12.8" ry="5" fill="#46546f" stroke="#8398c4" stroke-width=".8"/>
<ellipse cx="1.3" cy="-23" rx="13.4" ry="8.5" fill="#1c5fd8" fill-opacity=".2" stroke="#2b6fe8" stroke-opacity=".5" stroke-width=".8"/>
<path d="M-7.5 -31 V-14.5 a8.8 3.8 0 0 0 17.6 0 V-31 Z" fill="url(#motorB)"/>
<path d="M-7.5 -38.2 V-31 a8.8 3.8 0 0 0 17.6 0 V-38.2 Z" fill="url(#motor)"/>
<ellipse cx="1.3" cy="-38.2" rx="8.8" ry="4.2" fill="#94a2be"/>
<ellipse cx="12.4" cy="6.4" rx="5" ry="8.6" transform="rotate(30 12.4 6.4)" fill="#171e2e" stroke="#7b92c6" stroke-width="2"/>
<ellipse cx="12.8" cy="6.7" rx="2.2" ry="4.4" transform="rotate(30 12.8 6.7)" fill="#1341b5" fill-opacity=".65"/>
</g>
<g transform="translate(364.0 538.7) scale(.92)">
<ellipse cx="-10" cy="-5.8" rx="3.6" ry="6.6" transform="rotate(30 -10 -5.8)" fill="#3a4762" stroke="#7d94c6" stroke-width="1.3"/>
<path d="M-10.5 -6.5 L2.7 1.2 L2.7 11 L-10.5 3.3 Z" fill="#45536f"/>
<path d="M2.7 1.2 L10.5 -3.3 L10.5 6.5 L2.7 11 Z" fill="#2c364b"/>
<path d="M-10.5 -6.5 L-2.7 -11 L10.5 -3.3 L2.7 1.2 Z" fill="#7d90b8"/>
<path d="M-3.8 -7 L-2.6 -12.5 L3.2 -11.5 L4.4 -3.6 L0.3 -2.4 Z" fill="#7a8eb8"/>
<path d="M0.3 -2.4 L4.4 -3.6 L3.2 -11.5 L0.8 -10 Z" fill="#4f5e7e"/>
<path d="M0.9 -10.5 V-17" stroke="#3f90ff" stroke-width="1.7"/>
<ellipse cx="0.9" cy="-14.2" rx="6.7" ry="4" fill="none" stroke="#9db4e6" stroke-width="1.45"/>
<ellipse cx="9.8" cy="5.6" rx="4" ry="7" transform="rotate(30 9.8 5.6)" fill="#1a2132" stroke="#7890c4" stroke-width="1.8"/>
</g>
<g transform="translate(426.2 575.8)">
<ellipse cx="-12.2" cy="-5.6" rx="4.2" ry="7.6" transform="rotate(30 -12.2 -5.6)" fill="#2c364c" stroke="#8299cc" stroke-width="1.4"/>
<path d="M-11 -10.5 L-4 -13 L13 -2 L13 9 L8 13.5 L-11 1.5 Z" fill="#4d5b7a"/>
<path d="M-11 -10.5 L-4 -13.5 L12 -3.5 L5 0 Z" fill="#7587ac"/>
<path d="M-6 -10 V9.5 a5.6 2.4 0 0 0 11.2 0 V-10 Z" fill="url(#motor)"/>
<ellipse cx="-0.4" cy="11.6" rx="6.2" ry="2.6" fill="#5a6a8c"/>
<ellipse cx="-0.4" cy="10.4" rx="6.2" ry="2.6" fill="#7e8fb3"/>
<ellipse cx="-1.2" cy="-10.8" rx="12.8" ry="5" fill="#46546f" stroke="#8398c4" stroke-width=".8"/>
<ellipse cx="1.3" cy="-23" rx="13.4" ry="8.5" fill="#1c5fd8" fill-opacity=".2" stroke="#2b6fe8" stroke-opacity=".5" stroke-width=".8"/>
<path d="M-7.5 -31 V-14.5 a8.8 3.8 0 0 0 17.6 0 V-31 Z" fill="url(#motorB)"/>
<path d="M-7.5 -38.2 V-31 a8.8 3.8 0 0 0 17.6 0 V-38.2 Z" fill="url(#motor)"/>
<ellipse cx="1.3" cy="-38.2" rx="8.8" ry="4.2" fill="#94a2be"/>
<ellipse cx="12.4" cy="6.4" rx="5" ry="8.6" transform="rotate(30 12.4 6.4)" fill="#171e2e" stroke="#7b92c6" stroke-width="2"/>
<ellipse cx="12.8" cy="6.7" rx="2.2" ry="4.4" transform="rotate(30 12.8 6.7)" fill="#1341b5" fill-opacity=".65"/>
</g>
<g transform="translate(1154.5 507.2) scale(-.92 .92)">
<ellipse cx="-10" cy="-5.8" rx="3.6" ry="6.6" transform="rotate(30 -10 -5.8)" fill="#3a4762" stroke="#7d94c6" stroke-width="1.3"/>
<path d="M-10.5 -6.5 L2.7 1.2 L2.7 11 L-10.5 3.3 Z" fill="#45536f"/>
<path d="M2.7 1.2 L10.5 -3.3 L10.5 6.5 L2.7 11 Z" fill="#2c364b"/>
<path d="M-10.5 -6.5 L-2.7 -11 L10.5 -3.3 L2.7 1.2 Z" fill="#7d90b8"/>
<path d="M-3.8 -7 L-2.6 -12.5 L3.2 -11.5 L4.4 -3.6 L0.3 -2.4 Z" fill="#7a8eb8"/>
<path d="M0.3 -2.4 L4.4 -3.6 L3.2 -11.5 L0.8 -10 Z" fill="#4f5e7e"/>
<path d="M0.9 -10.5 V-17" stroke="#3f90ff" stroke-width="1.7"/>
<ellipse cx="0.9" cy="-14.2" rx="6.7" ry="4" fill="none" stroke="#9db4e6" stroke-width="1.45"/>
<ellipse cx="9.8" cy="5.6" rx="4" ry="7" transform="rotate(30 9.8 5.6)" fill="#1a2132" stroke="#7890c4" stroke-width="1.8"/>
</g>
<g transform="translate(1351.0 477.9) scale(.92)">
<ellipse cx="-10" cy="-5.8" rx="3.6" ry="6.6" transform="rotate(30 -10 -5.8)" fill="#3a4762" stroke="#7d94c6" stroke-width="1.3"/>
<path d="M-10.5 -6.5 L2.7 1.2 L2.7 11 L-10.5 3.3 Z" fill="#45536f"/>
<path d="M2.7 1.2 L10.5 -3.3 L10.5 6.5 L2.7 11 Z" fill="#2c364b"/>
<path d="M-10.5 -6.5 L-2.7 -11 L10.5 -3.3 L2.7 1.2 Z" fill="#7d90b8"/>
<path d="M-3.8 -7 L-2.6 -12.5 L3.2 -11.5 L4.4 -3.6 L0.3 -2.4 Z" fill="#7a8eb8"/>
<path d="M0.3 -2.4 L4.4 -3.6 L3.2 -11.5 L0.8 -10 Z" fill="#4f5e7e"/>
<path d="M0.9 -10.5 V-17" stroke="#3f90ff" stroke-width="1.7"/>
<ellipse cx="0.9" cy="-14.2" rx="6.7" ry="4" fill="none" stroke="#9db4e6" stroke-width="1.45"/>
<ellipse cx="9.8" cy="5.6" rx="4" ry="7" transform="rotate(30 9.8 5.6)" fill="#1a2132" stroke="#7890c4" stroke-width="1.8"/>
</g>
<g transform="translate(1413.7 515.3)">
<ellipse cx="-12.2" cy="-5.6" rx="4.2" ry="7.6" transform="rotate(30 -12.2 -5.6)" fill="#2c364c" stroke="#8299cc" stroke-width="1.4"/>
<path d="M-11 -10.5 L-4 -13 L13 -2 L13 9 L8 13.5 L-11 1.5 Z" fill="#4d5b7a"/>
<path d="M-11 -10.5 L-4 -13.5 L12 -3.5 L5 0 Z" fill="#7587ac"/>
<path d="M-6 -10 V9.5 a5.6 2.4 0 0 0 11.2 0 V-10 Z" fill="url(#motor)"/>
<ellipse cx="-0.4" cy="11.6" rx="6.2" ry="2.6" fill="#5a6a8c"/>
<ellipse cx="-0.4" cy="10.4" rx="6.2" ry="2.6" fill="#7e8fb3"/>
<ellipse cx="-1.2" cy="-10.8" rx="12.8" ry="5" fill="#46546f" stroke="#8398c4" stroke-width=".8"/>
<ellipse cx="1.3" cy="-23" rx="13.4" ry="8.5" fill="#1c5fd8" fill-opacity=".2" stroke="#2b6fe8" stroke-opacity=".5" stroke-width=".8"/>
<path d="M-7.5 -31 V-14.5 a8.8 3.8 0 0 0 17.6 0 V-31 Z" fill="url(#motorB)"/>
<path d="M-7.5 -38.2 V-31 a8.8 3.8 0 0 0 17.6 0 V-38.2 Z" fill="url(#motor)"/>
<ellipse cx="1.3" cy="-38.2" rx="8.8" ry="4.2" fill="#94a2be"/>
<ellipse cx="12.4" cy="6.4" rx="5" ry="8.6" transform="rotate(30 12.4 6.4)" fill="#171e2e" stroke="#7b92c6" stroke-width="2"/>
<ellipse cx="12.8" cy="6.7" rx="2.2" ry="4.4" transform="rotate(30 12.8 6.7)" fill="#7a2a4c" fill-opacity=".65"/>
</g>
<g transform="translate(1254.0 546.2) scale(.92)">
<ellipse cx="-10" cy="-5.8" rx="3.6" ry="6.6" transform="rotate(30 -10 -5.8)" fill="#3a4762" stroke="#7d94c6" stroke-width="1.3"/>
<path d="M-10.5 -6.5 L2.7 1.2 L2.7 11 L-10.5 3.3 Z" fill="#45536f"/>
<path d="M2.7 1.2 L10.5 -3.3 L10.5 6.5 L2.7 11 Z" fill="#2c364b"/>
<path d="M-10.5 -6.5 L-2.7 -11 L10.5 -3.3 L2.7 1.2 Z" fill="#7d90b8"/>
<path d="M-3.8 -7 L-2.6 -12.5 L3.2 -11.5 L4.4 -3.6 L0.3 -2.4 Z" fill="#7a8eb8"/>
<path d="M0.3 -2.4 L4.4 -3.6 L3.2 -11.5 L0.8 -10 Z" fill="#4f5e7e"/>
<path d="M0.9 -10.5 V-17" stroke="#3f90ff" stroke-width="1.7"/>
<ellipse cx="0.9" cy="-14.2" rx="6.7" ry="4" fill="none" stroke="#9db4e6" stroke-width="1.45"/>
<ellipse cx="9.8" cy="5.6" rx="4" ry="7" transform="rotate(30 9.8 5.6)" fill="#1a2132" stroke="#7890c4" stroke-width="1.8"/>
</g>
<g transform="translate(1316.2 583.3)">
<ellipse cx="-12.2" cy="-5.6" rx="4.2" ry="7.6" transform="rotate(30 -12.2 -5.6)" fill="#2c364c" stroke="#8299cc" stroke-width="1.4"/>
<path d="M-11 -10.5 L-4 -13 L13 -2 L13 9 L8 13.5 L-11 1.5 Z" fill="#4d5b7a"/>
<path d="M-11 -10.5 L-4 -13.5 L12 -3.5 L5 0 Z" fill="#7587ac"/>
<path d="M-6 -10 V9.5 a5.6 2.4 0 0 0 11.2 0 V-10 Z" fill="url(#motor)"/>
<ellipse cx="-0.4" cy="11.6" rx="6.2" ry="2.6" fill="#5a6a8c"/>
<ellipse cx="-0.4" cy="10.4" rx="6.2" ry="2.6" fill="#7e8fb3"/>
<ellipse cx="-1.2" cy="-10.8" rx="12.8" ry="5" fill="#46546f" stroke="#8398c4" stroke-width=".8"/>
<ellipse cx="1.3" cy="-23" rx="13.4" ry="8.5" fill="#1c5fd8" fill-opacity=".2" stroke="#2b6fe8" stroke-opacity=".5" stroke-width=".8"/>
<path d="M-7.5 -31 V-14.5 a8.8 3.8 0 0 0 17.6 0 V-31 Z" fill="url(#motorB)"/>
<path d="M-7.5 -38.2 V-31 a8.8 3.8 0 0 0 17.6 0 V-38.2 Z" fill="url(#motor)"/>
<ellipse cx="1.3" cy="-38.2" rx="8.8" ry="4.2" fill="#94a2be"/>
<ellipse cx="12.4" cy="6.4" rx="5" ry="8.6" transform="rotate(30 12.4 6.4)" fill="#171e2e" stroke="#7b92c6" stroke-width="2"/>
<ellipse cx="12.8" cy="6.7" rx="2.2" ry="4.4" transform="rotate(30 12.8 6.7)" fill="#7a2a4c" fill-opacity=".65"/>
</g>
<g transform="translate(1122.0 615.3) scale(.92)">
<ellipse cx="-10" cy="-5.8" rx="3.6" ry="6.6" transform="rotate(30 -10 -5.8)" fill="#3a4762" stroke="#7d94c6" stroke-width="1.3"/>
<path d="M-10.5 -6.5 L2.7 1.2 L2.7 11 L-10.5 3.3 Z" fill="#45536f"/>
<path d="M2.7 1.2 L10.5 -3.3 L10.5 6.5 L2.7 11 Z" fill="#2c364b"/>
<path d="M-10.5 -6.5 L-2.7 -11 L10.5 -3.3 L2.7 1.2 Z" fill="#7d90b8"/>
<path d="M-3.8 -7 L-2.6 -12.5 L3.2 -11.5 L4.4 -3.6 L0.3 -2.4 Z" fill="#7a8eb8"/>
<path d="M0.3 -2.4 L4.4 -3.6 L3.2 -11.5 L0.8 -10 Z" fill="#4f5e7e"/>
<path d="M0.9 -10.5 V-17" stroke="#3f90ff" stroke-width="1.7"/>
<ellipse cx="0.9" cy="-14.2" rx="6.7" ry="4" fill="none" stroke="#9db4e6" stroke-width="1.45"/>
<ellipse cx="9.8" cy="5.6" rx="4" ry="7" transform="rotate(30 9.8 5.6)" fill="#1a2132" stroke="#7890c4" stroke-width="1.8"/>
</g>
<g transform="translate(1184.7 652.7)">
<ellipse cx="-12.2" cy="-5.6" rx="4.2" ry="7.6" transform="rotate(30 -12.2 -5.6)" fill="#2c364c" stroke="#8299cc" stroke-width="1.4"/>
<path d="M-11 -10.5 L-4 -13 L13 -2 L13 9 L8 13.5 L-11 1.5 Z" fill="#4d5b7a"/>
<path d="M-11 -10.5 L-4 -13.5 L12 -3.5 L5 0 Z" fill="#7587ac"/>
<path d="M-6 -10 V9.5 a5.6 2.4 0 0 0 11.2 0 V-10 Z" fill="url(#motor)"/>
<ellipse cx="-0.4" cy="11.6" rx="6.2" ry="2.6" fill="#5a6a8c"/>
<ellipse cx="-0.4" cy="10.4" rx="6.2" ry="2.6" fill="#7e8fb3"/>
<ellipse cx="-1.2" cy="-10.8" rx="12.8" ry="5" fill="#46546f" stroke="#8398c4" stroke-width=".8"/>
<ellipse cx="1.3" cy="-23" rx="13.4" ry="8.5" fill="#1c5fd8" fill-opacity=".2" stroke="#2b6fe8" stroke-opacity=".5" stroke-width=".8"/>
<path d="M-7.5 -31 V-14.5 a8.8 3.8 0 0 0 17.6 0 V-31 Z" fill="url(#motorB)"/>
<path d="M-7.5 -38.2 V-31 a8.8 3.8 0 0 0 17.6 0 V-38.2 Z" fill="url(#motor)"/>
<ellipse cx="1.3" cy="-38.2" rx="8.8" ry="4.2" fill="#94a2be"/>
<ellipse cx="12.4" cy="6.4" rx="5" ry="8.6" transform="rotate(30 12.4 6.4)" fill="#171e2e" stroke="#7b92c6" stroke-width="2"/>
<ellipse cx="12.8" cy="6.7" rx="2.2" ry="4.4" transform="rotate(30 12.8 6.7)" fill="#6a6040" fill-opacity=".65"/>
</g>
<g transform="translate(1025.0 684.3) scale(.92)">
<ellipse cx="-10" cy="-5.8" rx="3.6" ry="6.6" transform="rotate(30 -10 -5.8)" fill="#3a4762" stroke="#7d94c6" stroke-width="1.3"/>
<path d="M-10.5 -6.5 L2.7 1.2 L2.7 11 L-10.5 3.3 Z" fill="#45536f"/>
<path d="M2.7 1.2 L10.5 -3.3 L10.5 6.5 L2.7 11 Z" fill="#2c364b"/>
<path d="M-10.5 -6.5 L-2.7 -11 L10.5 -3.3 L2.7 1.2 Z" fill="#7d90b8"/>
<path d="M-3.8 -7 L-2.6 -12.5 L3.2 -11.5 L4.4 -3.6 L0.3 -2.4 Z" fill="#7a8eb8"/>
<path d="M0.3 -2.4 L4.4 -3.6 L3.2 -11.5 L0.8 -10 Z" fill="#4f5e7e"/>
<path d="M0.9 -10.5 V-17" stroke="#3f90ff" stroke-width="1.7"/>
<ellipse cx="0.9" cy="-14.2" rx="6.7" ry="4" fill="none" stroke="#9db4e6" stroke-width="1.45"/>
<ellipse cx="9.8" cy="5.6" rx="4" ry="7" transform="rotate(30 9.8 5.6)" fill="#1a2132" stroke="#7890c4" stroke-width="1.8"/>
</g>
<g transform="translate(1087.5 721.6)">
<ellipse cx="-12.2" cy="-5.6" rx="4.2" ry="7.6" transform="rotate(30 -12.2 -5.6)" fill="#2c364c" stroke="#8299cc" stroke-width="1.4"/>
<path d="M-11 -10.5 L-4 -13 L13 -2 L13 9 L8 13.5 L-11 1.5 Z" fill="#4d5b7a"/>
<path d="M-11 -10.5 L-4 -13.5 L12 -3.5 L5 0 Z" fill="#7587ac"/>
<path d="M-6 -10 V9.5 a5.6 2.4 0 0 0 11.2 0 V-10 Z" fill="url(#motor)"/>
<ellipse cx="-0.4" cy="11.6" rx="6.2" ry="2.6" fill="#5a6a8c"/>
<ellipse cx="-0.4" cy="10.4" rx="6.2" ry="2.6" fill="#7e8fb3"/>
<ellipse cx="-1.2" cy="-10.8" rx="12.8" ry="5" fill="#46546f" stroke="#8398c4" stroke-width=".8"/>
<ellipse cx="1.3" cy="-23" rx="13.4" ry="8.5" fill="#1c5fd8" fill-opacity=".2" stroke="#2b6fe8" stroke-opacity=".5" stroke-width=".8"/>
<path d="M-7.5 -31 V-14.5 a8.8 3.8 0 0 0 17.6 0 V-31 Z" fill="url(#motorB)"/>
<path d="M-7.5 -38.2 V-31 a8.8 3.8 0 0 0 17.6 0 V-38.2 Z" fill="url(#motor)"/>
<ellipse cx="1.3" cy="-38.2" rx="8.8" ry="4.2" fill="#94a2be"/>
<ellipse cx="12.4" cy="6.4" rx="5" ry="8.6" transform="rotate(30 12.4 6.4)" fill="#171e2e" stroke="#7b92c6" stroke-width="2"/>
<ellipse cx="12.8" cy="6.7" rx="2.2" ry="4.4" transform="rotate(30 12.8 6.7)" fill="#6a6040" fill-opacity=".65"/>
</g>
<g transform="translate(1721.0 789.3) scale(.92)">
<ellipse cx="-10" cy="-5.8" rx="3.6" ry="6.6" transform="rotate(30 -10 -5.8)" fill="#3a4762" stroke="#7d94c6" stroke-width="1.3"/>
<path d="M-10.5 -6.5 L2.7 1.2 L2.7 11 L-10.5 3.3 Z" fill="#45536f"/>
<path d="M2.7 1.2 L10.5 -3.3 L10.5 6.5 L2.7 11 Z" fill="#2c364b"/>
<path d="M-10.5 -6.5 L-2.7 -11 L10.5 -3.3 L2.7 1.2 Z" fill="#7d90b8"/>
<path d="M-3.8 -7 L-2.6 -12.5 L3.2 -11.5 L4.4 -3.6 L0.3 -2.4 Z" fill="#7a8eb8"/>
<path d="M0.3 -2.4 L4.4 -3.6 L3.2 -11.5 L0.8 -10 Z" fill="#4f5e7e"/>
<path d="M0.9 -10.5 V-17" stroke="#3f90ff" stroke-width="1.7"/>
<ellipse cx="0.9" cy="-14.2" rx="6.7" ry="4" fill="none" stroke="#9db4e6" stroke-width="1.45"/>
<ellipse cx="9.8" cy="5.6" rx="4" ry="7" transform="rotate(30 9.8 5.6)" fill="#1a2132" stroke="#7890c4" stroke-width="1.8"/>
</g>
<ellipse cx="1277.5" cy="783.0" rx="21" ry="36" transform="rotate(30 1277.5 783.0)" fill="#2f7df0"/>
<ellipse cx="1283.0" cy="786.0" rx="21" ry="36" transform="rotate(30 1283.0 786.0)" fill="url(#fmFl)"/>
<ellipse cx="1290.2" cy="802.3" rx="1.6" ry="2.6" transform="rotate(30 1290.2 802.3)" fill="#141b2b"/>
<ellipse cx="1275.4" cy="811.3" rx="1.6" ry="2.6" transform="rotate(30 1275.4 811.3)" fill="#141b2b"/>
<ellipse cx="1265.0" cy="805.6" rx="1.6" ry="2.6" transform="rotate(30 1265.0 805.6)" fill="#141b2b"/>
<ellipse cx="1265.2" cy="788.3" rx="1.6" ry="2.6" transform="rotate(30 1265.2 788.3)" fill="#141b2b"/>
<ellipse cx="1275.8" cy="769.7" rx="1.6" ry="2.6" transform="rotate(30 1275.8 769.7)" fill="#141b2b"/>
<ellipse cx="1290.6" cy="760.7" rx="1.6" ry="2.6" transform="rotate(30 1290.6 760.7)" fill="#141b2b"/>
<ellipse cx="1301.0" cy="766.4" rx="1.6" ry="2.6" transform="rotate(30 1301.0 766.4)" fill="#141b2b"/>
<ellipse cx="1300.8" cy="783.7" rx="1.6" ry="2.6" transform="rotate(30 1300.8 783.7)" fill="#141b2b"/>
<path d="M1295.2 764.8 L1375.2 810.8 L1350.8 853.2 L1270.8 807.2 Z" fill="url(#fmBody)"/>
<polygon points="1299.5,775.4 1324.2,788.4 1324.2,807.1 1299.5,794.1" fill="#7083aa"/>
<polygon points="1324.2,788.4 1345.0,777.0 1345.0,795.7 1324.2,807.1" fill="#45536f"/>
<polygon points="1299.5,775.4 1319.7,763.2 1345.0,777.0 1324.2,788.4" fill="#8a9dc4"/>
<polygon points="1302.5,780.0 1321.0,789.8 1321.0,802.5 1302.5,792.8" fill="#2b3448"/>
<polygon points="1306.0,784.0 1317.0,789.8 1317.0,794.3 1306.0,788.5" fill="#141b2b"/>
<circle cx="1309" cy="794" r="1.3" fill="#2ec79a"/>
<circle cx="1314.5" cy="797" r="1.5" fill="#e8506a"/>
<ellipse cx="1363.5" cy="832.5" rx="21" ry="36" transform="rotate(30 1363.5 832.5)" fill="#2f7df0"/>
<ellipse cx="1369.0" cy="835.5" rx="21" ry="36" transform="rotate(30 1369.0 835.5)" fill="url(#fmFl)"/>
<ellipse cx="1376.2" cy="851.8" rx="1.6" ry="2.6" transform="rotate(30 1376.2 851.8)" fill="#141b2b"/>
<ellipse cx="1361.4" cy="860.8" rx="1.6" ry="2.6" transform="rotate(30 1361.4 860.8)" fill="#141b2b"/>
<ellipse cx="1351.0" cy="855.1" rx="1.6" ry="2.6" transform="rotate(30 1351.0 855.1)" fill="#141b2b"/>
<ellipse cx="1351.2" cy="837.8" rx="1.6" ry="2.6" transform="rotate(30 1351.2 837.8)" fill="#141b2b"/>
<ellipse cx="1361.8" cy="819.2" rx="1.6" ry="2.6" transform="rotate(30 1361.8 819.2)" fill="#141b2b"/>
<ellipse cx="1376.6" cy="810.2" rx="1.6" ry="2.6" transform="rotate(30 1376.6 810.2)" fill="#141b2b"/>
<ellipse cx="1387.0" cy="815.9" rx="1.6" ry="2.6" transform="rotate(30 1387.0 815.9)" fill="#141b2b"/>
<ellipse cx="1386.8" cy="833.2" rx="1.6" ry="2.6" transform="rotate(30 1386.8 833.2)" fill="#141b2b"/>
<ellipse cx="1369.0" cy="835.5" rx="12.5" ry="21.5" transform="rotate(30 1369.0 835.5)" fill="#4b5977"/>
<ellipse cx="1367.0" cy="833.3" rx="11.3" ry="19.8" transform="rotate(30 1367.0 833.3)" fill="#0e1422"/>
<text x="1338.0" y="818.0" font-size="13" font-weight="700" fill="#aab6d0" fill-opacity="0.08" text-anchor="middle">乐吾乐</text>
<path d="M1369.0 841.9 L1463.8 896.6" stroke="#5f5941" stroke-width="4.6" stroke-linecap="round" fill="none" stroke-opacity=".92"/>
<path d="M1369.0 841.9 L1463.8 896.6" stroke="#ffd95a" stroke-width="1.9" stroke-dasharray="9 15.8" fill="none"/>
<polygon points="149.4,646.8 203.2,677.8 203.2,805.5 149.4,774.5" fill="url(#chL)"/>
<polygon points="203.2,677.8 257.5,646.4 257.5,774.1 203.2,805.5" fill="url(#chR)"/>
<polygon points="203.7,615.4 257.5,646.4 203.2,677.8 149.4,646.8" fill="url(#chTop)" stroke="#7c92be" stroke-width=".6"/>
<polygon points="152.4,652.0 199.7,679.3 199.7,746.8 152.4,719.5" fill="#0d1424"/>
<polygon points="206.6,679.3 254.4,651.7 254.4,719.2 206.6,746.8" fill="#0d1424"/>
<polygon points="157.2,656.2 160.2,658.0 160.2,670.0 157.2,668.2" fill="url(#cell)"/>
<polygon points="157.2,669.5 160.2,671.3 160.2,683.3 157.2,681.5" fill="url(#cell)"/>
<polygon points="157.2,682.9 160.2,684.6 160.2,696.6 157.2,694.9" fill="url(#cell)"/>
<polygon points="157.2,696.1 160.2,697.9 160.2,709.9 157.2,708.1" fill="url(#cell)"/>
<polygon points="157.2,709.5 160.2,711.2 160.2,723.2 157.2,721.5" fill="url(#cell)"/>
<polygon points="161.5,658.8 169.8,663.5 169.8,675.5 161.5,670.8" fill="url(#cell)"/>
<polygon points="161.5,672.0 169.8,676.8 169.8,688.8 161.5,684.0" fill="url(#cell)"/>
<polygon points="161.5,685.4 169.8,690.1 169.8,702.1 161.5,697.4" fill="url(#cell)"/>
<polygon points="161.5,698.6 169.8,703.4 169.8,715.4 161.5,710.6" fill="url(#cell)"/>
<polygon points="161.5,712.0 169.8,716.8 169.8,728.8 161.5,724.0" fill="url(#cell)"/>
<polygon points="171.1,664.2 179.4,669.0 179.4,681.0 171.1,676.2" fill="url(#cell)"/>
<polygon points="171.1,677.5 179.4,682.3 179.4,694.3 171.1,689.5" fill="url(#cell)"/>
<polygon points="171.1,690.9 179.4,695.6 179.4,707.6 171.1,702.9" fill="url(#cell)"/>
<polygon points="171.1,704.1 179.4,708.9 179.4,720.9 171.1,716.1" fill="url(#cell)"/>
<polygon points="171.1,717.5 179.4,722.2 179.4,734.2 171.1,729.5" fill="url(#cell)"/>
<polygon points="180.6,669.8 188.9,674.5 188.9,686.5 180.6,681.8" fill="url(#cell)"/>
<polygon points="180.6,683.0 188.9,687.8 188.9,699.8 180.6,695.0" fill="url(#cell)"/>
<polygon points="180.6,696.4 188.9,701.1 188.9,713.1 180.6,708.4" fill="url(#cell)"/>
<polygon points="180.6,709.6 188.9,714.4 188.9,726.4 180.6,721.6" fill="url(#cell)"/>
<polygon points="180.6,723.0 188.9,727.8 188.9,739.8 180.6,735.0" fill="url(#cell)"/>
<polygon points="190.1,675.2 198.4,680.0 198.4,692.0 190.1,687.2" fill="url(#cell)"/>
<polygon points="190.1,688.5 198.4,693.3 198.4,705.3 190.1,700.5" fill="url(#cell)"/>
<polygon points="190.1,701.9 198.4,706.6 198.4,718.6 190.1,713.9" fill="url(#cell)"/>
<polygon points="190.1,715.1 198.4,719.9 198.4,731.9 190.1,727.1" fill="url(#cell)"/>
<polygon points="190.1,728.5 198.4,733.2 198.4,745.2 190.1,740.5" fill="url(#cell)"/>
<polygon points="207.5,680.3 215.8,675.5 215.8,687.5 207.5,692.3" fill="url(#cellR)"/>
<polygon points="207.5,693.6 215.8,688.8 215.8,700.8 207.5,705.6" fill="url(#cellR)"/>
<polygon points="207.5,706.9 215.8,702.1 215.8,714.1 207.5,718.9" fill="url(#cellR)"/>
<polygon points="207.5,720.2 215.8,715.4 215.8,727.4 207.5,732.2" fill="url(#cellR)"/>
<polygon points="207.5,733.5 215.8,728.7 215.8,740.7 207.5,745.5" fill="url(#cellR)"/>
<polygon points="217.0,674.8 225.4,670.0 225.4,682.0 217.0,686.8" fill="url(#cellR)"/>
<polygon points="217.0,688.1 225.4,683.3 225.4,695.3 217.0,700.1" fill="url(#cellR)"/>
<polygon points="217.0,701.4 225.4,696.6 225.4,708.6 217.0,713.4" fill="url(#cellR)"/>
<polygon points="217.0,714.7 225.4,709.9 225.4,721.9 217.0,726.7" fill="url(#cellR)"/>
<polygon points="217.0,728.0 225.4,723.2 225.4,735.2 217.0,740.0" fill="url(#cellR)"/>
<polygon points="226.6,669.3 234.9,664.5 234.9,676.5 226.6,681.3" fill="url(#cellR)"/>
<polygon points="226.6,682.6 234.9,677.8 234.9,689.8 226.6,694.6" fill="url(#cellR)"/>
<polygon points="226.6,695.9 234.9,691.1 234.9,703.1 226.6,707.9" fill="url(#cellR)"/>
<polygon points="226.6,709.2 234.9,704.4 234.9,716.4 226.6,721.2" fill="url(#cellR)"/>
<polygon points="226.6,722.5 234.9,717.7 234.9,729.7 226.6,734.5" fill="url(#cellR)"/>
<polygon points="236.1,663.8 244.4,659.0 244.4,671.0 236.1,675.8" fill="url(#cellR)"/>
<polygon points="236.1,677.1 244.4,672.3 244.4,684.3 236.1,689.1" fill="url(#cellR)"/>
<polygon points="236.1,690.4 244.4,685.6 244.4,697.6 236.1,702.4" fill="url(#cellR)"/>
<polygon points="236.1,703.7 244.4,698.9 244.4,710.9 236.1,715.7" fill="url(#cellR)"/>
<polygon points="236.1,717.0 244.4,712.2 244.4,724.2 236.1,729.0" fill="url(#cellR)"/>
<polygon points="246.0,658.0 249.5,656.0 249.5,668.0 246.0,670.0" fill="url(#cellR)"/>
<polygon points="246.0,671.3 249.5,669.3 249.5,681.3 246.0,683.3" fill="url(#cellR)"/>
<polygon points="246.0,684.6 249.5,682.6 249.5,694.6 246.0,696.6" fill="url(#cellR)"/>
<polygon points="246.0,697.9 249.5,695.9 249.5,707.9 246.0,709.9" fill="url(#cellR)"/>
<polygon points="246.0,711.2 249.5,709.2 249.5,721.2 246.0,723.2" fill="url(#cellR)"/>
<path d="M152.4 666.1 L157.2 668.9" stroke="#5f7296" stroke-width=".7"/>
<path d="M249.5 668.6 L254.4 665.8" stroke="#4a5a7a" stroke-width=".7"/>
<path d="M152.4 679.4 L157.2 682.1" stroke="#5f7296" stroke-width=".7"/>
<path d="M249.5 681.9 L254.4 679.1" stroke="#4a5a7a" stroke-width=".7"/>
<path d="M152.4 692.7 L157.2 695.5" stroke="#5f7296" stroke-width=".7"/>
<path d="M249.5 695.2 L254.4 692.4" stroke="#4a5a7a" stroke-width=".7"/>
<path d="M152.4 706.0 L157.2 708.8" stroke="#5f7296" stroke-width=".7"/>
<path d="M249.5 708.5 L254.4 705.7" stroke="#4a5a7a" stroke-width=".7"/>
<path d="M203.2 677.8 v127.7" stroke="#6a7ea6" stroke-width="1"/>
<path d="M176.7 634.2 v12.0 a27.0 15.2 0 0 0 54.0 0 v-12.0 z" fill="url(#fanCyl)"/>
<ellipse cx="203.7" cy="634.2" rx="27.0" ry="15.2" fill="#1a2234" stroke="#8a9cc2" stroke-width="1"/>
<ellipse cx="204.2" cy="636.5" rx="18.0" ry="10.0" fill="#2a6fd6"/>
<ellipse cx="212.4" cy="637.6" rx="9" ry="4.2" fill="#4fa0ff" transform="rotate(-12 212.4 637.6)"/>
<ellipse cx="202.0" cy="640.9" rx="9" ry="4.2" fill="#4fa0ff" transform="rotate(32 202.0 640.9)"/>
<ellipse cx="196.0" cy="635.3" rx="9" ry="4.2" fill="#4fa0ff" transform="rotate(77 196.0 635.3)"/>
<ellipse cx="206.4" cy="632.0" rx="9" ry="4.2" fill="#4fa0ff" transform="rotate(122 206.4 632.0)"/>
<ellipse cx="204.2" cy="636.5" rx="4" ry="2.2" fill="#8cc4ff"/>
<ellipse cx="203.7" cy="634.2" rx="6.8" ry="3.8" fill="none" stroke="#c9d3ea" stroke-width=".5" stroke-opacity=".6"/>
<ellipse cx="203.7" cy="634.2" rx="12.2" ry="6.8" fill="none" stroke="#c9d3ea" stroke-width=".5" stroke-opacity=".6"/>
<ellipse cx="203.7" cy="634.2" rx="17.6" ry="9.9" fill="none" stroke="#c9d3ea" stroke-width=".5" stroke-opacity=".6"/>
<ellipse cx="203.7" cy="634.2" rx="22.9" ry="12.9" fill="none" stroke="#c9d3ea" stroke-width=".5" stroke-opacity=".6"/>
<path d="M179.4 634.2 L228.0 634.2" stroke="#c9d3ea" stroke-width=".45" stroke-opacity=".55"/>
<path d="M181.2 629.0 L226.2 639.5" stroke="#c9d3ea" stroke-width=".45" stroke-opacity=".55"/>
<path d="M186.5 624.6 L220.9 643.9" stroke="#c9d3ea" stroke-width=".45" stroke-opacity=".55"/>
<path d="M194.4 621.6 L213.0 646.9" stroke="#c9d3ea" stroke-width=".45" stroke-opacity=".55"/>
<path d="M203.7 620.6 L203.7 647.9" stroke="#c9d3ea" stroke-width=".45" stroke-opacity=".55"/>
<path d="M213.0 621.6 L194.4 646.9" stroke="#c9d3ea" stroke-width=".45" stroke-opacity=".55"/>
<path d="M220.9 624.6 L186.5 643.9" stroke="#c9d3ea" stroke-width=".45" stroke-opacity=".55"/>
<path d="M226.2 629.0 L181.2 639.5" stroke="#c9d3ea" stroke-width=".45" stroke-opacity=".55"/>
<text x="205.7" y="718.4" font-size="20" font-weight="700" fill="#2b5570" fill-opacity="0.3" text-anchor="middle">乐吾乐</text>
<polygon points="315.9,743.9 369.7,774.9 369.7,902.6 315.9,871.6" fill="url(#chL)"/>
<polygon points="369.7,774.9 424.0,743.5 424.0,871.2 369.7,902.6" fill="url(#chR)"/>
<polygon points="370.2,712.5 424.0,743.5 369.7,774.9 315.9,743.9" fill="url(#chTop)" stroke="#7c92be" stroke-width=".6"/>
<polygon points="318.9,749.1 366.2,776.4 366.2,843.9 318.9,816.6" fill="#0d1424"/>
<polygon points="373.1,776.4 420.9,748.8 420.9,816.3 373.1,843.9" fill="#0d1424"/>
<polygon points="323.7,753.4 326.7,755.1 326.7,767.1 323.7,765.4" fill="url(#cell)"/>
<polygon points="323.7,766.6 326.7,768.4 326.7,780.4 323.7,778.6" fill="url(#cell)"/>
<polygon points="323.7,780.0 326.7,781.7 326.7,793.7 323.7,792.0" fill="url(#cell)"/>
<polygon points="323.7,793.2 326.7,795.0 326.7,807.0 323.7,805.2" fill="url(#cell)"/>
<polygon points="323.7,806.6 326.7,808.3 326.7,820.3 323.7,818.6" fill="url(#cell)"/>
<polygon points="328.0,755.9 336.3,760.6 336.3,772.6 328.0,767.9" fill="url(#cell)"/>
<polygon points="328.0,769.1 336.3,773.9 336.3,785.9 328.0,781.1" fill="url(#cell)"/>
<polygon points="328.0,782.5 336.3,787.2 336.3,799.2 328.0,794.5" fill="url(#cell)"/>
<polygon points="328.0,795.8 336.3,800.5 336.3,812.5 328.0,807.8" fill="url(#cell)"/>
<polygon points="328.0,809.1 336.3,813.9 336.3,825.9 328.0,821.1" fill="url(#cell)"/>
<polygon points="337.6,761.4 345.9,766.1 345.9,778.1 337.6,773.4" fill="url(#cell)"/>
<polygon points="337.6,774.6 345.9,779.4 345.9,791.4 337.6,786.6" fill="url(#cell)"/>
<polygon points="337.6,788.0 345.9,792.8 345.9,804.8 337.6,800.0" fill="url(#cell)"/>
<polygon points="337.6,801.2 345.9,806.0 345.9,818.0 337.6,813.2" fill="url(#cell)"/>
<polygon points="337.6,814.6 345.9,819.4 345.9,831.4 337.6,826.6" fill="url(#cell)"/>
<polygon points="347.1,766.9 355.4,771.6 355.4,783.6 347.1,778.9" fill="url(#cell)"/>
<polygon points="347.1,780.1 355.4,784.9 355.4,796.9 347.1,792.1" fill="url(#cell)"/>
<polygon points="347.1,793.5 355.4,798.2 355.4,810.2 347.1,805.5" fill="url(#cell)"/>
<polygon points="347.1,806.8 355.4,811.5 355.4,823.5 347.1,818.8" fill="url(#cell)"/>
<polygon points="347.1,820.1 355.4,824.9 355.4,836.9 347.1,832.1" fill="url(#cell)"/>
<polygon points="356.6,772.4 364.9,777.1 364.9,789.1 356.6,784.4" fill="url(#cell)"/>
<polygon points="356.6,785.6 364.9,790.4 364.9,802.4 356.6,797.6" fill="url(#cell)"/>
<polygon points="356.6,799.0 364.9,803.8 364.9,815.8 356.6,811.0" fill="url(#cell)"/>
<polygon points="356.6,812.2 364.9,817.0 364.9,829.0 356.6,824.2" fill="url(#cell)"/>
<polygon points="356.6,825.6 364.9,830.4 364.9,842.4 356.6,837.6" fill="url(#cell)"/>
<polygon points="374.0,777.4 382.3,772.6 382.3,784.6 374.0,789.4" fill="url(#cellR)"/>
<polygon points="374.0,790.7 382.3,785.9 382.3,797.9 374.0,802.7" fill="url(#cellR)"/>
<polygon points="374.0,804.0 382.3,799.2 382.3,811.2 374.0,816.0" fill="url(#cellR)"/>
<polygon points="374.0,817.3 382.3,812.5 382.3,824.5 374.0,829.3" fill="url(#cellR)"/>
<polygon points="374.0,830.6 382.3,825.8 382.3,837.8 374.0,842.6" fill="url(#cellR)"/>
<polygon points="383.5,771.9 391.9,767.1 391.9,779.1 383.5,783.9" fill="url(#cellR)"/>
<polygon points="383.5,785.2 391.9,780.4 391.9,792.4 383.5,797.2" fill="url(#cellR)"/>
<polygon points="383.5,798.5 391.9,793.7 391.9,805.7 383.5,810.5" fill="url(#cellR)"/>
<polygon points="383.5,811.8 391.9,807.0 391.9,819.0 383.5,823.8" fill="url(#cellR)"/>
<polygon points="383.5,825.1 391.9,820.3 391.9,832.3 383.5,837.1" fill="url(#cellR)"/>
<polygon points="393.1,766.4 401.4,761.6 401.4,773.6 393.1,778.4" fill="url(#cellR)"/>
<polygon points="393.1,779.7 401.4,774.9 401.4,786.9 393.1,791.7" fill="url(#cellR)"/>
<polygon points="393.1,793.0 401.4,788.2 401.4,800.2 393.1,805.0" fill="url(#cellR)"/>
<polygon points="393.1,806.3 401.4,801.5 401.4,813.5 393.1,818.3" fill="url(#cellR)"/>
<polygon points="393.1,819.6 401.4,814.8 401.4,826.8 393.1,831.6" fill="url(#cellR)"/>
<polygon points="402.6,760.9 410.9,756.1 410.9,768.1 402.6,772.9" fill="url(#cellR)"/>
<polygon points="402.6,774.2 410.9,769.4 410.9,781.4 402.6,786.2" fill="url(#cellR)"/>
<polygon points="402.6,787.5 410.9,782.7 410.9,794.7 402.6,799.5" fill="url(#cellR)"/>
<polygon points="402.6,800.8 410.9,796.0 410.9,808.0 402.6,812.8" fill="url(#cellR)"/>
<polygon points="402.6,814.1 410.9,809.3 410.9,821.3 402.6,826.1" fill="url(#cellR)"/>
<polygon points="412.5,755.1 416.0,753.1 416.0,765.1 412.5,767.1" fill="url(#cellR)"/>
<polygon points="412.5,768.4 416.0,766.4 416.0,778.4 412.5,780.4" fill="url(#cellR)"/>
<polygon points="412.5,781.8 416.0,779.8 416.0,791.8 412.5,793.8" fill="url(#cellR)"/>
<polygon points="412.5,795.0 416.0,793.0 416.0,805.0 412.5,807.0" fill="url(#cellR)"/>
<polygon points="412.5,808.4 416.0,806.4 416.0,818.4 412.5,820.4" fill="url(#cellR)"/>
<path d="M318.9 763.2 L323.7 766.0" stroke="#5f7296" stroke-width=".7"/>
<path d="M416.0 765.8 L420.9 762.9" stroke="#4a5a7a" stroke-width=".7"/>
<path d="M318.9 776.5 L323.7 779.2" stroke="#5f7296" stroke-width=".7"/>
<path d="M416.0 779.0 L420.9 776.2" stroke="#4a5a7a" stroke-width=".7"/>
<path d="M318.9 789.8 L323.7 792.6" stroke="#5f7296" stroke-width=".7"/>
<path d="M416.0 792.4 L420.9 789.5" stroke="#4a5a7a" stroke-width=".7"/>
<path d="M318.9 803.1 L323.7 805.9" stroke="#5f7296" stroke-width=".7"/>
<path d="M416.0 805.6 L420.9 802.8" stroke="#4a5a7a" stroke-width=".7"/>
<path d="M369.7 774.9 v127.7" stroke="#6a7ea6" stroke-width="1"/>
<path d="M343.2 731.4 v12.0 a27.0 15.2 0 0 0 54.0 0 v-12.0 z" fill="url(#fanCyl)"/>
<ellipse cx="370.2" cy="731.4" rx="27.0" ry="15.2" fill="#1a2234" stroke="#8a9cc2" stroke-width="1"/>
<ellipse cx="370.7" cy="733.6" rx="18.0" ry="10.0" fill="#2a6fd6"/>
<ellipse cx="378.9" cy="734.7" rx="9" ry="4.2" fill="#4fa0ff" transform="rotate(-12 378.9 734.7)"/>
<ellipse cx="368.5" cy="738.0" rx="9" ry="4.2" fill="#4fa0ff" transform="rotate(32 368.5 738.0)"/>
<ellipse cx="362.5" cy="732.4" rx="9" ry="4.2" fill="#4fa0ff" transform="rotate(77 362.5 732.4)"/>
<ellipse cx="372.9" cy="729.1" rx="9" ry="4.2" fill="#4fa0ff" transform="rotate(122 372.9 729.1)"/>
<ellipse cx="370.7" cy="733.6" rx="4" ry="2.2" fill="#8cc4ff"/>
<ellipse cx="370.2" cy="731.4" rx="6.8" ry="3.8" fill="none" stroke="#c9d3ea" stroke-width=".5" stroke-opacity=".6"/>
<ellipse cx="370.2" cy="731.4" rx="12.2" ry="6.8" fill="none" stroke="#c9d3ea" stroke-width=".5" stroke-opacity=".6"/>
<ellipse cx="370.2" cy="731.4" rx="17.6" ry="9.9" fill="none" stroke="#c9d3ea" stroke-width=".5" stroke-opacity=".6"/>
<ellipse cx="370.2" cy="731.4" rx="22.9" ry="12.9" fill="none" stroke="#c9d3ea" stroke-width=".5" stroke-opacity=".6"/>
<path d="M345.9 731.4 L394.5 731.4" stroke="#c9d3ea" stroke-width=".45" stroke-opacity=".55"/>
<path d="M347.7 726.1 L392.7 736.6" stroke="#c9d3ea" stroke-width=".45" stroke-opacity=".55"/>
<path d="M353.0 721.7 L387.4 741.0" stroke="#c9d3ea" stroke-width=".45" stroke-opacity=".55"/>
<path d="M360.9 718.7 L379.5 744.0" stroke="#c9d3ea" stroke-width=".45" stroke-opacity=".55"/>
<path d="M370.2 717.7 L370.2 745.0" stroke="#c9d3ea" stroke-width=".45" stroke-opacity=".55"/>
<path d="M379.5 718.7 L360.9 744.0" stroke="#c9d3ea" stroke-width=".45" stroke-opacity=".55"/>
<path d="M387.4 721.7 L353.0 741.0" stroke="#c9d3ea" stroke-width=".45" stroke-opacity=".55"/>
<path d="M392.7 726.1 L347.7 736.6" stroke="#c9d3ea" stroke-width=".45" stroke-opacity=".55"/>
<text x="372.2" y="815.5" font-size="20" font-weight="700" fill="#2b5570" fill-opacity="0.3" text-anchor="middle">乐吾乐</text>
<polygon points="485.1,839.0 538.9,870.0 538.9,997.7 485.1,966.7" fill="url(#chL)"/>
<polygon points="538.9,870.0 593.2,838.6 593.2,966.4 538.9,997.7" fill="url(#chR)"/>
<polygon points="539.4,807.6 593.2,838.6 538.9,870.0 485.1,839.0" fill="url(#chTop)" stroke="#7c92be" stroke-width=".6"/>
<polygon points="488.1,844.2 535.4,871.5 535.4,939.0 488.1,911.7" fill="#0d1424"/>
<polygon points="542.3,871.5 590.1,843.9 590.1,911.4 542.3,939.0" fill="#0d1424"/>
<polygon points="492.9,848.5 495.9,850.2 495.9,862.2 492.9,860.5" fill="url(#cell)"/>
<polygon points="492.9,861.8 495.9,863.5 495.9,875.5 492.9,873.8" fill="url(#cell)"/>
<polygon points="492.9,875.1 495.9,876.8 495.9,888.8 492.9,887.1" fill="url(#cell)"/>
<polygon points="492.9,888.4 495.9,890.1 495.9,902.1 492.9,900.4" fill="url(#cell)"/>
<polygon points="492.9,901.7 495.9,903.4 495.9,915.4 492.9,913.7" fill="url(#cell)"/>
<polygon points="497.2,851.0 505.5,855.8 505.5,867.8 497.2,863.0" fill="url(#cell)"/>
<polygon points="497.2,864.2 505.5,869.0 505.5,881.0 497.2,876.2" fill="url(#cell)"/>
<polygon points="497.2,877.6 505.5,882.4 505.5,894.4 497.2,889.6" fill="url(#cell)"/>
<polygon points="497.2,890.9 505.5,895.6 505.5,907.6 497.2,902.9" fill="url(#cell)"/>
<polygon points="497.2,904.2 505.5,909.0 505.5,921.0 497.2,916.2" fill="url(#cell)"/>
<polygon points="506.8,856.5 515.1,861.2 515.1,873.2 506.8,868.5" fill="url(#cell)"/>
<polygon points="506.8,869.8 515.1,874.5 515.1,886.5 506.8,881.8" fill="url(#cell)"/>
<polygon points="506.8,883.1 515.1,887.9 515.1,899.9 506.8,895.1" fill="url(#cell)"/>
<polygon points="506.8,896.4 515.1,901.1 515.1,913.1 506.8,908.4" fill="url(#cell)"/>
<polygon points="506.8,909.7 515.1,914.5 515.1,926.5 506.8,921.7" fill="url(#cell)"/>
<polygon points="516.3,862.0 524.6,866.8 524.6,878.8 516.3,874.0" fill="url(#cell)"/>
<polygon points="516.3,875.2 524.6,880.0 524.6,892.0 516.3,887.2" fill="url(#cell)"/>
<polygon points="516.3,888.6 524.6,893.4 524.6,905.4 516.3,900.6" fill="url(#cell)"/>
<polygon points="516.3,901.9 524.6,906.6 524.6,918.6 516.3,913.9" fill="url(#cell)"/>
<polygon points="516.3,915.2 524.6,920.0 524.6,932.0 516.3,927.2" fill="url(#cell)"/>
<polygon points="525.8,867.5 534.1,872.2 534.1,884.2 525.8,879.5" fill="url(#cell)"/>
<polygon points="525.8,880.8 534.1,885.5 534.1,897.5 525.8,892.8" fill="url(#cell)"/>
<polygon points="525.8,894.1 534.1,898.9 534.1,910.9 525.8,906.1" fill="url(#cell)"/>
<polygon points="525.8,907.4 534.1,912.1 534.1,924.1 525.8,919.4" fill="url(#cell)"/>
<polygon points="525.8,920.7 534.1,925.5 534.1,937.5 525.8,932.7" fill="url(#cell)"/>
<polygon points="543.2,872.5 551.5,867.7 551.5,879.7 543.2,884.5" fill="url(#cellR)"/>
<polygon points="543.2,885.8 551.5,881.0 551.5,893.0 543.2,897.8" fill="url(#cellR)"/>
<polygon points="543.2,899.1 551.5,894.3 551.5,906.3 543.2,911.1" fill="url(#cellR)"/>
<polygon points="543.2,912.4 551.5,907.6 551.5,919.6 543.2,924.4" fill="url(#cellR)"/>
<polygon points="543.2,925.7 551.5,920.9 551.5,932.9 543.2,937.7" fill="url(#cellR)"/>
<polygon points="552.7,867.0 561.1,862.2 561.1,874.2 552.7,879.0" fill="url(#cellR)"/>
<polygon points="552.7,880.3 561.1,875.5 561.1,887.5 552.7,892.3" fill="url(#cellR)"/>
<polygon points="552.7,893.6 561.1,888.8 561.1,900.8 552.7,905.6" fill="url(#cellR)"/>
<polygon points="552.7,906.9 561.1,902.1 561.1,914.1 552.7,918.9" fill="url(#cellR)"/>
<polygon points="552.7,920.2 561.1,915.4 561.1,927.4 552.7,932.2" fill="url(#cellR)"/>
<polygon points="562.3,861.5 570.6,856.7 570.6,868.7 562.3,873.5" fill="url(#cellR)"/>
<polygon points="562.3,874.8 570.6,870.0 570.6,882.0 562.3,886.8" fill="url(#cellR)"/>
<polygon points="562.3,888.1 570.6,883.3 570.6,895.3 562.3,900.1" fill="url(#cellR)"/>
<polygon points="562.3,901.4 570.6,896.6 570.6,908.6 562.3,913.4" fill="url(#cellR)"/>
<polygon points="562.3,914.7 570.6,909.9 570.6,921.9 562.3,926.7" fill="url(#cellR)"/>
<polygon points="571.8,856.0 580.1,851.2 580.1,863.2 571.8,868.0" fill="url(#cellR)"/>
<polygon points="571.8,869.3 580.1,864.5 580.1,876.5 571.8,881.3" fill="url(#cellR)"/>
<polygon points="571.8,882.6 580.1,877.8 580.1,889.8 571.8,894.6" fill="url(#cellR)"/>
<polygon points="571.8,895.9 580.1,891.1 580.1,903.1 571.8,907.9" fill="url(#cellR)"/>
<polygon points="571.8,909.2 580.1,904.4 580.1,916.4 571.8,921.2" fill="url(#cellR)"/>
<polygon points="581.7,850.2 585.2,848.2 585.2,860.2 581.7,862.2" fill="url(#cellR)"/>
<polygon points="581.7,863.5 585.2,861.5 585.2,873.5 581.7,875.5" fill="url(#cellR)"/>
<polygon points="581.7,876.9 585.2,874.9 585.2,886.9 581.7,888.9" fill="url(#cellR)"/>
<polygon points="581.7,890.1 585.2,888.1 585.2,900.1 581.7,902.1" fill="url(#cellR)"/>
<polygon points="581.7,903.5 585.2,901.5 585.2,913.5 581.7,915.5" fill="url(#cellR)"/>
<path d="M488.1 858.3 L492.9 861.1" stroke="#5f7296" stroke-width=".7"/>
<path d="M585.2 860.9 L590.1 858.0" stroke="#4a5a7a" stroke-width=".7"/>
<path d="M488.1 871.6 L492.9 874.4" stroke="#5f7296" stroke-width=".7"/>
<path d="M585.2 874.1 L590.1 871.3" stroke="#4a5a7a" stroke-width=".7"/>
<path d="M488.1 884.9 L492.9 887.7" stroke="#5f7296" stroke-width=".7"/>
<path d="M585.2 887.5 L590.1 884.6" stroke="#4a5a7a" stroke-width=".7"/>
<path d="M488.1 898.2 L492.9 901.0" stroke="#5f7296" stroke-width=".7"/>
<path d="M585.2 900.8 L590.1 897.9" stroke="#4a5a7a" stroke-width=".7"/>
<path d="M538.9 870.0 v127.7" stroke="#6a7ea6" stroke-width="1"/>
<path d="M512.4 826.5 v12.0 a27.0 15.2 0 0 0 54.0 0 v-12.0 z" fill="url(#fanCyl)"/>
<ellipse cx="539.4" cy="826.5" rx="27.0" ry="15.2" fill="#1a2234" stroke="#8a9cc2" stroke-width="1"/>
<ellipse cx="539.9" cy="828.7" rx="18.0" ry="10.0" fill="#2a6fd6"/>
<ellipse cx="548.1" cy="829.8" rx="9" ry="4.2" fill="#4fa0ff" transform="rotate(-12 548.1 829.8)"/>
<ellipse cx="537.7" cy="833.1" rx="9" ry="4.2" fill="#4fa0ff" transform="rotate(32 537.7 833.1)"/>
<ellipse cx="531.7" cy="827.5" rx="9" ry="4.2" fill="#4fa0ff" transform="rotate(77 531.7 827.5)"/>
<ellipse cx="542.1" cy="824.2" rx="9" ry="4.2" fill="#4fa0ff" transform="rotate(122 542.1 824.2)"/>
<ellipse cx="539.9" cy="828.7" rx="4" ry="2.2" fill="#8cc4ff"/>
<ellipse cx="539.4" cy="826.5" rx="6.8" ry="3.8" fill="none" stroke="#c9d3ea" stroke-width=".5" stroke-opacity=".6"/>
<ellipse cx="539.4" cy="826.5" rx="12.2" ry="6.8" fill="none" stroke="#c9d3ea" stroke-width=".5" stroke-opacity=".6"/>
<ellipse cx="539.4" cy="826.5" rx="17.6" ry="9.9" fill="none" stroke="#c9d3ea" stroke-width=".5" stroke-opacity=".6"/>
<ellipse cx="539.4" cy="826.5" rx="22.9" ry="12.9" fill="none" stroke="#c9d3ea" stroke-width=".5" stroke-opacity=".6"/>
<path d="M515.1 826.5 L563.7 826.5" stroke="#c9d3ea" stroke-width=".45" stroke-opacity=".55"/>
<path d="M516.9 821.2 L561.9 831.7" stroke="#c9d3ea" stroke-width=".45" stroke-opacity=".55"/>
<path d="M522.2 816.8 L556.6 836.1" stroke="#c9d3ea" stroke-width=".45" stroke-opacity=".55"/>
<path d="M530.1 813.8 L548.7 839.1" stroke="#c9d3ea" stroke-width=".45" stroke-opacity=".55"/>
<path d="M539.4 812.8 L539.4 840.1" stroke="#c9d3ea" stroke-width=".45" stroke-opacity=".55"/>
<path d="M548.7 813.8 L530.1 839.1" stroke="#c9d3ea" stroke-width=".45" stroke-opacity=".55"/>
<path d="M556.6 816.8 L522.2 836.1" stroke="#c9d3ea" stroke-width=".45" stroke-opacity=".55"/>
<path d="M561.9 821.2 L516.9 831.7" stroke="#c9d3ea" stroke-width=".45" stroke-opacity=".55"/>
<text x="541.4" y="910.6" font-size="20" font-weight="700" fill="#2b5570" fill-opacity="0.3" text-anchor="middle">乐吾乐</text>
</g>
<g id="labels" font-size="6" text-anchor="middle">
<rect x="478.0" y="10.8" width="38.5" height="14.0" rx="2" fill="#3b4162" stroke="#949cc2" stroke-width="1.3"/>
<text transform="translate(497.2 20.0) scale(.25)" font-size="24" fill="#e3e6f0" font-weight="700" text-anchor="middle">1# 电锅炉</text>
<rect x="618.0" y="79.3" width="38.5" height="14.2" rx="2" fill="#3b4162" stroke="#949cc2" stroke-width="1.3"/>
<text transform="translate(637.2 88.6) scale(.25)" font-size="24" fill="#e3e6f0" font-weight="700" text-anchor="middle">2# 电锅炉</text>
<rect x="264.5" y="321.5" width="39.0" height="15.3" rx="2" fill="#3b4162" stroke="#949cc2" stroke-width="1.3"/>
<text transform="translate(284.0 331.3) scale(.25)" font-size="24" fill="#e3e6f0" font-weight="700" text-anchor="middle">蓄水箱</text>
<rect x="1079.5" y="465.8" width="39.2" height="15.2" rx="2" fill="#3b4162" stroke="#949cc2" stroke-width="1.3"/>
<text transform="translate(1099.1 475.6) scale(.25)" font-size="24" fill="#e3e6f0" font-weight="700" text-anchor="middle">储热水箱</text>
<rect x="1617.6" y="563.8" width="39.1" height="14.8" rx="2" fill="#3b4162" stroke="#949cc2" stroke-width="1.3"/>
<text transform="translate(1637.2 573.4) scale(.25)" font-size="24" fill="#e3e6f0" font-weight="700" text-anchor="middle">板式换热器</text>
<rect x="1329.2" y="738.4" width="39.0" height="15.2" rx="2" fill="#3b4162" stroke="#949cc2" stroke-width="1.3"/>
<text transform="translate(1348.7 748.2) scale(.25)" font-size="24" fill="#e3e6f0" font-weight="700" text-anchor="middle">冷热量表</text>
<rect x="184.8" y="819.2" width="39.2" height="15.2" rx="2" fill="#3b4162" stroke="#949cc2" stroke-width="1.3"/>
<text transform="translate(204.4 829.0) scale(.25)" font-size="24" fill="#e3e6f0" font-weight="700" text-anchor="middle">1# 空气源机</text>
<rect x="351.8" y="919.6" width="39.2" height="15.0" rx="2" fill="#3b4162" stroke="#949cc2" stroke-width="1.3"/>
<text transform="translate(371.4 929.3) scale(.25)" font-size="24" fill="#e3e6f0" font-weight="700" text-anchor="middle">2# 空气源机</text>
<rect x="521.2" y="1009.6" width="38.8" height="15.0" rx="2" fill="#3b4162" stroke="#949cc2" stroke-width="1.3"/>
<text transform="translate(540.6 1019.3) scale(.25)" font-size="24" fill="#e3e6f0" font-weight="700" text-anchor="middle">3# 空气源机</text>
<rect x="699.0" y="331.0" width="43.0" height="15.5" rx="2" fill="#14307c" stroke="#3d7df2" stroke-width="1.6"/>
<text transform="translate(720.5 340.9) scale(.25)" font-size="24" fill="#bcd0ff" text-anchor="middle">1# 循环水泵</text>
<rect x="596.5" y="402.0" width="43.0" height="15.3" rx="2" fill="#14307c" stroke="#3d7df2" stroke-width="1.6"/>
<text transform="translate(618.0 411.8) scale(.25)" font-size="24" fill="#bcd0ff" text-anchor="middle">2# 循环水泵</text>
<rect x="512.3" y="445.2" width="43.2" height="15.6" rx="2" fill="#14307c" stroke="#3d7df2" stroke-width="1.6"/>
<text transform="translate(533.9 455.2) scale(.25)" font-size="24" fill="#bcd0ff" text-anchor="middle">3# 循环水泵</text>
<rect x="409.8" y="516.0" width="43.2" height="15.6" rx="2" fill="#14307c" stroke="#3d7df2" stroke-width="1.6"/>
<text transform="translate(431.4 526.0) scale(.25)" font-size="24" fill="#bcd0ff" text-anchor="middle">4# 循环水泵</text>
<rect x="1402.3" y="447.0" width="43.2" height="15.0" rx="2" fill="#14307c" stroke="#3d7df2" stroke-width="1.6"/>
<text transform="translate(1423.9 456.7) scale(.25)" font-size="24" fill="#bcd0ff" text-anchor="middle">5# 循环水泵</text>
<rect x="1300.3" y="517.7" width="42.7" height="15.3" rx="2" fill="#14307c" stroke="#3d7df2" stroke-width="1.6"/>
<text transform="translate(1321.7 527.6) scale(.25)" font-size="24" fill="#bcd0ff" text-anchor="middle">6# 循环水泵</text>
<rect x="1157.8" y="674.8" width="43.2" height="15.2" rx="2" fill="#14307c" stroke="#3d7df2" stroke-width="1.6"/>
<text transform="translate(1179.4 684.6) scale(.25)" font-size="24" fill="#bcd0ff" text-anchor="middle">7# 循环水泵</text>
<rect x="1071.3" y="659.7" width="43.2" height="15.3" rx="2" fill="#14307c" stroke="#3d7df2" stroke-width="1.6"/>
<text transform="translate(1092.9 669.6) scale(.25)" font-size="24" fill="#bcd0ff" text-anchor="middle">8# 循环水泵</text>
<text transform="translate(874.0 233.3) scale(.25)" font-size="24.8" fill="#ffffff" font-weight="700" text-anchor="middle">K1</text>
<text transform="translate(654.0 326.3) scale(.25)" font-size="24.8" fill="#ffffff" font-weight="700" text-anchor="middle">K2</text>
<text transform="translate(552.5 401.3) scale(.25)" font-size="24.8" fill="#ffffff" font-weight="700" text-anchor="middle">K3</text>
<text transform="translate(462.5 440.3) scale(.25)" font-size="24.8" fill="#ffffff" font-weight="700" text-anchor="middle">K4</text>
<text transform="translate(365.0 511.3) scale(.25)" font-size="24.8" fill="#ffffff" font-weight="700" text-anchor="middle">K5</text>
<text transform="translate(162.0 307.3) scale(.25)" font-size="24.8" fill="#ffffff" font-weight="700" text-anchor="middle">K6</text>
<text transform="translate(1152.0 479.3) scale(.25)" font-size="24.8" fill="#ffffff" font-weight="700" text-anchor="middle">K7</text>
<text transform="translate(1352.5 449.3) scale(.25)" font-size="24.8" fill="#ffffff" font-weight="700" text-anchor="middle">K8</text>
<text transform="translate(1256.0 517.3) scale(.25)" font-size="24.8" fill="#ffffff" font-weight="700" text-anchor="middle">K9</text>
<text transform="translate(1123.5 583.3) scale(.25)" font-size="24.8" fill="#ffffff" font-weight="700" text-anchor="middle">K10</text>
<text transform="translate(1025.8 655.3) scale(.25)" font-size="24.8" fill="#ffffff" font-weight="700" text-anchor="middle">K11</text>
<text transform="translate(1722.5 757.3) scale(.25)" font-size="24.8" fill="#ffffff" font-weight="700" text-anchor="middle">K12</text>
<text transform="translate(89.0 303.2) scale(.25)" font-size="24" fill="#ffffff" font-weight="700" text-anchor="middle">自来水</text>
<text transform="translate(1494.4 905.4) scale(.25)" font-size="22.8" fill="#e8ecf5" text-anchor="middle">采暖回水</text>
<text transform="translate(1868.8 863.4) scale(.25)" font-size="22.8" fill="#e8ecf5" text-anchor="middle">采暖系统供水</text>
<path d="M238.0 264.8 V333.0" stroke="#1e2857" stroke-width=".9"/>
<rect x="209.3" y="240.3" width="47.9" height="24.5" rx="2.5" fill="#0d1c55" stroke="#3a72e8" stroke-width="1.4"/>
<text x="233.2" y="256.4" fill="#c9d8ff" font-weight="700" font-size="11">-3</text>
<text transform="translate(265.5 254.1) scale(.25)" font-size="24" fill="#525c86" text-anchor="start">m³</text>
<path d="M1110.3 208.7 V276.0" stroke="#1e2857" stroke-width=".9"/>
<rect x="1081.5" y="185.3" width="48.3" height="23.4" rx="2.5" fill="#0d1c55" stroke="#3a72e8" stroke-width="1.4"/>
<text x="1105.7" y="200.9" fill="#c9d8ff" font-weight="700" font-size="11">33</text>
<text transform="translate(1138.5 198.5) scale(.25)" font-size="24" fill="#525c86" text-anchor="start">m³</text>
</g>
</g>
<g id="legend" font-size="11.5" fill="#a9afc6">
<rect x="1549.6" y="39.2" width="31" height="3.6" fill="#f1585c"/>
<text x="1589.5" y="43.6">电锅炉热泵一次水</text>
<rect x="1549.6" y="75.8" width="31" height="3.6" fill="#1bd3a1"/>
<text x="1589.5" y="80.2">电锅炉热泵二次水</text>
<rect x="1549.6" y="109.3" width="31" height="3.6" fill="#4a86ff"/>
<text x="1589.5" y="113.7">自来水</text>
<rect x="1549.6" y="140.3" width="31" height="3.6" fill="#ff7b52"/>
<text x="1589.5" y="144.7">采暖系统一次水</text>
<rect x="1549.6" y="171.9" width="31" height="3.6" fill="#ffc95c"/>
<text x="1589.5" y="176.3">采暖系统二次水</text>
</g>
<text x="1659.5" y="1070.5" font-size="24.6" fill="#c8d0ff" opacity=".35" filter="url(#haze)">掘金技术社区 @ 秦清</text>
<text x="1659.5" y="1070.5" font-size="24.6" fill="#e3e4ea">掘金技术社区 @ 秦清</text>
</svg></body></html>
